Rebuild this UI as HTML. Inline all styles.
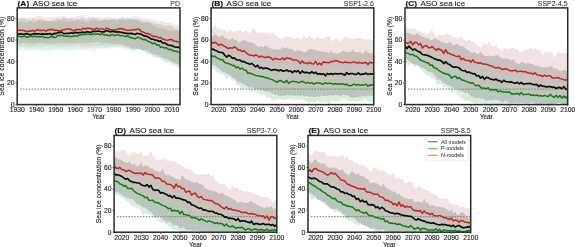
<!DOCTYPE html>
<html><head><meta charset="utf-8"><style>
html,body{margin:0;padding:0;background:#fff;width:575px;height:247px;overflow:hidden}
svg{display:block;will-change:transform;filter:blur(0.2px)}
</style></head><body>
<svg width="575" height="247" viewBox="0 0 575 247">
<style>text{font-family:"Liberation Sans",sans-serif;fill:#1a1a1a}.tk{stroke:#1a1a1a;stroke-width:0.12}</style>
<clipPath id="cA"><rect x="17.2" y="7.9" width="162.8" height="96.7"/></clipPath>
<g clip-path="url(#cA)">
<polygon points="17.2,106.6 17.2,18.13 19.14,17.85 21.08,17.04 23.01,17.99 24.95,17.33 26.89,18.66 28.83,16.31 30.77,17.82 32.7,17.56 34.64,16.65 36.58,16.73 38.52,15.33 40.46,15.39 42.4,17.1 44.33,17.24 46.27,17.32 48.21,16.97 50.15,16.85 52.09,17.17 54.02,17.61 55.96,17.09 57.9,16.24 59.84,16.76 61.78,15.71 63.71,15.81 65.65,16.96 67.59,17.59 69.53,18.06 71.47,16.44 73.4,16.9 75.34,17.19 77.28,16.13 79.22,16.13 81.16,14.9 83.1,15.42 85.03,16.64 86.97,17.18 88.91,15.94 90.85,17.04 92.79,17.1 94.72,16.84 96.66,17.37 98.6,16.92 100.54,17.66 102.48,17.65 104.41,17.53 106.35,16.61 108.29,16.76 110.23,17.81 112.17,17.73 114.1,17.37 116.04,18.22 117.98,18.68 119.92,17.68 121.86,16.74 123.8,17.18 125.73,18.39 127.67,17.09 129.61,17.18 131.55,17.32 133.49,16.61 135.42,16.34 137.36,16.25 139.3,16.57 141.24,17.92 143.18,19.02 145.11,18.29 147.05,18.18 148.99,19.22 150.93,18.87 152.87,19.83 154.8,20.04 156.74,20.74 158.68,21.29 160.62,21.12 162.56,21.62 164.5,21.68 166.43,22.58 168.37,23.07 170.31,22.1 172.25,24.12 174.19,24.57 176.12,24.71 178.06,24.37 180,25.67 180,106.6" fill="#f2e6e6"/>
<polygon points="17.2,106.6 17.2,19.46 19.14,18.93 21.08,18.77 23.01,18.1 24.95,18.93 26.89,19.19 28.83,20.04 30.77,20.17 32.7,17.94 34.64,19.61 36.58,19.9 38.52,19.15 40.46,19.08 42.4,19.4 44.33,19.69 46.27,20.81 48.21,20.41 50.15,20.96 52.09,20.63 54.02,20.11 55.96,19.25 57.9,17.9 59.84,19.47 61.78,18.93 63.71,17.29 65.65,18.49 67.59,18.6 69.53,18.8 71.47,18.26 73.4,19.13 75.34,18.95 77.28,18.53 79.22,19.21 81.16,18.33 83.1,18.09 85.03,19.16 86.97,19.42 88.91,18.46 90.85,18.58 92.79,16.85 94.72,18.68 96.66,18.56 98.6,19.13 100.54,20.35 102.48,19.86 104.41,18.51 106.35,19.03 108.29,19.48 110.23,19.52 112.17,19.28 114.1,18.73 116.04,19.38 117.98,19.24 119.92,17.99 121.86,19.27 123.8,18.11 125.73,19.88 127.67,19.73 129.61,19.48 131.55,19.42 133.49,19.92 135.42,19.04 137.36,19.27 139.3,19.65 141.24,20.95 143.18,20.8 145.11,21.88 147.05,20.94 148.99,21.71 150.93,22.2 152.87,23.57 154.8,23.44 156.74,24.08 158.68,24.37 160.62,24.32 162.56,25.01 164.5,25.6 166.43,25.92 168.37,25.16 170.31,26.01 172.25,26.28 174.19,27.49 176.12,29 178.06,29.52 180,29.88 180,106.6" fill="#dacdcc"/>
<polygon points="17.2,106.6 17.2,22.31 19.14,22.25 21.08,21.81 23.01,21.35 24.95,22.51 26.89,22.88 28.83,22.19 30.77,20.84 32.7,22.63 34.64,22.43 36.58,22.32 38.52,20.59 40.46,21.3 42.4,20.97 44.33,20.94 46.27,21.21 48.21,21.56 50.15,21.45 52.09,20.98 54.02,21.6 55.96,21.74 57.9,20.84 59.84,20.83 61.78,20.52 63.71,20.21 65.65,21.71 67.59,21.59 69.53,22.48 71.47,20.66 73.4,21.05 75.34,20.91 77.28,19.8 79.22,20.62 81.16,21.1 83.1,20.42 85.03,21.66 86.97,22.2 88.91,21.8 90.85,20.73 92.79,20.56 94.72,20.26 96.66,20.95 98.6,20.84 100.54,21.11 102.48,19.96 104.41,20.24 106.35,19.82 108.29,20.4 110.23,20.38 112.17,19.83 114.1,20.68 116.04,20.61 117.98,20.59 119.92,20.15 121.86,19.56 123.8,19.8 125.73,19.96 127.67,18.53 129.61,19.53 131.55,19.2 133.49,19.48 135.42,19.76 137.36,20.73 139.3,21.21 141.24,22.1 143.18,22.38 145.11,23.29 147.05,23.36 148.99,22.48 150.93,24.19 152.87,25.14 154.8,25.84 156.74,27.46 158.68,28.19 160.62,28.25 162.56,28.95 164.5,28.18 166.43,29.54 168.37,30.16 170.31,30.19 172.25,30.77 174.19,30.52 176.12,30.43 178.06,31.22 180,32.33 180,106.6" fill="#c3beb8"/>
<polygon points="17.2,106.6 17.2,38.82 19.14,39.09 21.08,38.95 23.01,38.95 24.95,39.6 26.89,40.07 28.83,40.43 30.77,39.91 32.7,39.77 34.64,39.59 36.58,39.56 38.52,39.48 40.46,39.66 42.4,40.06 44.33,39.65 46.27,40.08 48.21,40.13 50.15,40.24 52.09,40.57 54.02,40.07 55.96,39.55 57.9,38.36 59.84,38.82 61.78,39.31 63.71,39.12 65.65,39.42 67.59,38.97 69.53,39.39 71.47,39.32 73.4,39.17 75.34,39.25 77.28,38.85 79.22,37.81 81.16,37.94 83.1,37.13 85.03,37.8 86.97,36.84 88.91,36.64 90.85,36.96 92.79,36.93 94.72,36.63 96.66,36.28 98.6,36.32 100.54,36.55 102.48,37.04 104.41,37.81 106.35,37.4 108.29,37.86 110.23,38.17 112.17,37.75 114.1,37.51 116.04,37.51 117.98,38.65 119.92,37.83 121.86,38.3 123.8,38.83 125.73,39.06 127.67,39.48 129.61,39.13 131.55,39.97 133.49,40.69 135.42,41.35 137.36,39.97 139.3,40.13 141.24,41.18 143.18,42 145.11,43.15 147.05,43.43 148.99,44 150.93,44.78 152.87,45.79 154.8,46.7 156.74,47.72 158.68,48.35 160.62,49.19 162.56,50.09 164.5,50.46 166.43,51.4 168.37,53.12 170.31,52.52 172.25,53.44 174.19,53.66 176.12,54.39 178.06,54.85 180,56.05 180,106.6" fill="#bbc5bd"/>
<polygon points="17.2,106.6 17.2,43.48 19.14,43.42 21.08,43.09 23.01,42.83 24.95,43.22 26.89,43.4 28.83,43.26 30.77,43.36 32.7,43.75 34.64,43.42 36.58,43.15 38.52,42.91 40.46,42.79 42.4,42.94 44.33,43.33 46.27,43.28 48.21,44.02 50.15,43.39 52.09,43.46 54.02,43.34 55.96,43.78 57.9,42.83 59.84,43.2 61.78,43.09 63.71,43.16 65.65,43.1 67.59,43.28 69.53,43.01 71.47,43.49 73.4,43.22 75.34,42.97 77.28,43.43 79.22,42.33 81.16,43.28 83.1,42.64 85.03,42.88 86.97,43.06 88.91,43.53 90.85,42.51 92.79,42.14 94.72,42.28 96.66,42.24 98.6,41.95 100.54,42.94 102.48,43.66 104.41,43.28 106.35,43.1 108.29,43.33 110.23,43.46 112.17,43.64 114.1,43.84 116.04,43.65 117.98,44.49 119.92,43.64 121.86,44.44 123.8,45.17 125.73,46.06 127.67,45.69 129.61,46.81 131.55,49.16 133.49,48.01 135.42,48.56 137.36,48.48 139.3,48.84 141.24,49.19 143.18,50.18 145.11,50.16 147.05,50.61 148.99,51.6 150.93,52.67 152.87,53.87 154.8,54.3 156.74,55.14 158.68,55.48 160.62,56.79 162.56,57.86 164.5,58.34 166.43,58.73 168.37,59.56 170.31,60.64 172.25,62.75 174.19,63.42 176.12,63.08 178.06,63.85 180,65.4 180,106.6" fill="#cfdfd2"/>
<polygon points="17.2,106.6 17.2,46.3 19.14,46.47 21.08,46.49 23.01,46.26 24.95,46.04 26.89,46.6 28.83,47.43 30.77,46.81 32.7,46.89 34.64,46.05 36.58,46.54 38.52,47.02 40.46,46.16 42.4,46.39 44.33,45.8 46.27,45.63 48.21,45.96 50.15,45.86 52.09,46 54.02,45.84 55.96,45.92 57.9,46.98 59.84,46.22 61.78,46.45 63.71,46.31 65.65,46.33 67.59,46.04 69.53,46.35 71.47,45.87 73.4,45.83 75.34,45.26 77.28,45.79 79.22,45.36 81.16,46.06 83.1,46.03 85.03,46.39 86.97,46.52 88.91,46.21 90.85,46.35 92.79,45.84 94.72,45.76 96.66,45.85 98.6,46.07 100.54,46.11 102.48,45.98 104.41,46.31 106.35,47.33 108.29,46.23 110.23,45.75 112.17,45.85 114.1,46.26 116.04,45.61 117.98,45.65 119.92,45.99 121.86,45.69 123.8,46.15 125.73,47.43 127.67,47.62 129.61,48 131.55,48.7 133.49,50.47 135.42,51.02 137.36,50.43 139.3,50.67 141.24,50.71 143.18,50.88 145.11,51.49 147.05,52.26 148.99,52.72 150.93,53.71 152.87,55.46 154.8,55.36 156.74,56.16 158.68,57.38 160.62,57.68 162.56,58.6 164.5,59.41 166.43,60.04 168.37,61.19 170.31,61.57 172.25,61.99 174.19,63.07 176.12,64.66 178.06,65.5 180,65.91 180,106.6" fill="#e0eee2"/>
<polygon points="17.2,106.6 17.2,48.91 19.14,48.99 21.08,48.93 23.01,48.81 24.95,48.51 26.89,49.09 28.83,48.93 30.77,49.36 32.7,48.85 34.64,48.95 36.58,49.58 38.52,49.25 40.46,49.55 42.4,49.38 44.33,49.15 46.27,49.34 48.21,49.76 50.15,49.35 52.09,48.77 54.02,49.02 55.96,49.27 57.9,48.66 59.84,48.53 61.78,48.33 63.71,48.37 65.65,49.32 67.59,48.81 69.53,48.7 71.47,48.24 73.4,48.71 75.34,48.87 77.28,48.93 79.22,48.26 81.16,48.57 83.1,48.91 85.03,48.59 86.97,48.17 88.91,47.9 90.85,48.08 92.79,48.45 94.72,48.32 96.66,48.37 98.6,48.34 100.54,48.09 102.48,47.89 104.41,48.45 106.35,47.83 108.29,47.88 110.23,48.14 112.17,47.8 114.1,47.28 116.04,47.94 117.98,47.44 119.92,47.14 121.86,47.49 123.8,48.2 125.73,48.5 127.67,48.87 129.61,49.15 131.55,50.21 133.49,50.08 135.42,49.89 137.36,49.21 139.3,49.42 141.24,50.66 143.18,51.83 145.11,52.78 147.05,53.64 148.99,54.22 150.93,55.29 152.87,56.38 154.8,57.17 156.74,57.93 158.68,58.56 160.62,59.34 162.56,61.56 164.5,61.92 166.43,62.13 168.37,62.55 170.31,63.08 172.25,64.57 174.19,65.17 176.12,65.79 178.06,67.62 180,67.61 180,106.6" fill="#f0f7f1"/>
<polygon points="17.2,106.6 17.2,51.1 19.14,50.67 21.08,50.24 23.01,52.12 24.95,51.01 26.89,51.37 28.83,51.32 30.77,52.09 32.7,51.62 34.64,50.33 36.58,50.74 38.52,50.54 40.46,50.79 42.4,51.14 44.33,51.39 46.27,51.62 48.21,51.75 50.15,51.8 52.09,51.59 54.02,51.1 55.96,50.84 57.9,50.12 59.84,50.03 61.78,49.55 63.71,50.87 65.65,51.09 67.59,51.55 69.53,51.28 71.47,50.85 73.4,51.58 75.34,51.56 77.28,50.07 79.22,50.09 81.16,50.52 83.1,49.88 85.03,50.61 86.97,50.1 88.91,50.04 90.85,50.36 92.79,50.61 94.72,51.16 96.66,50.31 98.6,49.66 100.54,49.48 102.48,49.37 104.41,49.59 106.35,48.67 108.29,48.47 110.23,48.17 112.17,48.08 114.1,47.7 116.04,47.52 117.98,47.77 119.92,48.73 121.86,49.77 123.8,48.84 125.73,49.95 127.67,50.09 129.61,50.66 131.55,51.06 133.49,50.66 135.42,49.93 137.36,49.3 139.3,49.39 141.24,50.68 143.18,51.37 145.11,52.79 147.05,54.99 148.99,54.94 150.93,56.28 152.87,57.11 154.8,57.16 156.74,57.8 158.68,58.48 160.62,59.17 162.56,60.45 164.5,61.84 166.43,62.57 168.37,63.12 170.31,63.63 172.25,64.93 174.19,65.54 176.12,66.88 178.06,67.72 180,68.44 180,106.6" fill="#ffffff"/>
<line x1="20.2" y1="89.08" x2="180" y2="89.08" stroke="#7a7a7a" stroke-width="1.0" stroke-dasharray="1.55,1.32"/>
<polyline points="17.2,29.84 19.14,30.15 21.08,30.34 23.01,30.27 24.95,30.97 26.89,31.72 28.83,31.07 30.77,31.26 32.7,30.21 34.64,31.56 36.58,29.79 38.52,29.94 40.46,30.57 42.4,30.29 44.33,30.3 46.27,31.1 48.21,29.52 50.15,29.71 52.09,29.22 54.02,30.35 55.96,30.35 57.9,30.42 59.84,30.98 61.78,30.26 63.71,29.85 65.65,29.24 67.59,29.11 69.53,29.05 71.47,29.79 73.4,30.84 75.34,29.85 77.28,29.5 79.22,29.51 81.16,29.97 83.1,28.18 85.03,28.94 86.97,28.1 88.91,28.35 90.85,28.45 92.79,29.21 94.72,29.25 96.66,28.29 98.6,28.77 100.54,29.11 102.48,28.61 104.41,29.95 106.35,27.99 108.29,29.07 110.23,29.44 112.17,30.11 114.1,29.67 116.04,29.74 117.98,29.36 119.92,28.55 121.86,28.73 123.8,29.33 125.73,29.92 127.67,30.19 129.61,30.17 131.55,29.96 133.49,29.48 135.42,29.68 137.36,29.23 139.3,29.16 141.24,31.56 143.18,31.92 145.11,33.21 147.05,33.42 148.99,33.77 150.93,35.07 152.87,36.46 154.8,36.16 156.74,36.62 158.68,37.82 160.62,37.62 162.56,39.01 164.5,39.44 166.43,40.44 168.37,40.08 170.31,39.51 172.25,39.85 174.19,41.33 176.12,41.23 178.06,41.88 180,42.33" fill="none" stroke="#c4261c" stroke-width="1.5" stroke-linejoin="round"/>
<polyline points="17.2,34.62 19.14,33.99 21.08,33.85 23.01,34.51 24.95,33.97 26.89,33.87 28.83,34.42 30.77,34.85 32.7,34 34.64,33.7 36.58,33.93 38.52,33.74 40.46,34.29 42.4,33.85 44.33,34.16 46.27,34.08 48.21,33.96 50.15,33.59 52.09,34.67 54.02,33.44 55.96,33.67 57.9,32.36 59.84,32.67 61.78,32.05 63.71,33.6 65.65,33.49 67.59,33.3 69.53,33.35 71.47,32.74 73.4,33.36 75.34,32.33 77.28,32.9 79.22,32.54 81.16,32.67 83.1,32 85.03,32.76 86.97,31.6 88.91,32.04 90.85,32.4 92.79,31.24 94.72,31.28 96.66,31.43 98.6,31.03 100.54,31.54 102.48,31.86 104.41,31.79 106.35,30.85 108.29,31.02 110.23,31.99 112.17,31.28 114.1,31.54 116.04,32.16 117.98,31.74 119.92,32.15 121.86,32.43 123.8,32.88 125.73,33.39 127.67,33.43 129.61,33.59 131.55,33.38 133.49,34.07 135.42,34.3 137.36,33.28 139.3,33.99 141.24,34.11 143.18,35.35 145.11,36.16 147.05,36.33 148.99,37.56 150.93,38.88 152.87,39.27 154.8,39.89 156.74,40.17 158.68,41.31 160.62,40.89 162.56,42.99 164.5,42.84 166.43,43.9 168.37,45.23 170.31,45.42 172.25,45.71 174.19,46.76 176.12,47.27 178.06,47.1 180,47.85" fill="none" stroke="#0d0d0d" stroke-width="1.7" stroke-linejoin="round"/>
<polyline points="17.2,36.1 19.14,36.25 21.08,36.68 23.01,36.47 24.95,36.02 26.89,37.39 28.83,36.84 30.77,36.15 32.7,36.77 34.64,36.27 36.58,36.73 38.52,36.48 40.46,36.88 42.4,36.32 44.33,37.47 46.27,37.21 48.21,37.87 50.15,36.94 52.09,36.42 54.02,37.48 55.96,37.2 57.9,35.29 59.84,35.69 61.78,35.07 63.71,36.15 65.65,36.21 67.59,36 69.53,36.49 71.47,36.56 73.4,36.16 75.34,35.96 77.28,36 79.22,35.09 81.16,35 83.1,34.26 85.03,34.57 86.97,34.36 88.91,33.9 90.85,34.62 92.79,34.04 94.72,34.12 96.66,34.25 98.6,33.8 100.54,34.7 102.48,33.75 104.41,35.15 106.35,34.62 108.29,35.58 110.23,35.54 112.17,34.42 114.1,35.44 116.04,35.3 117.98,34.33 119.92,35.64 121.86,35.38 123.8,36.13 125.73,36.56 127.67,35.78 129.61,37.33 131.55,37.65 133.49,38.32 135.42,38.79 137.36,37.22 139.3,37.87 141.24,38.53 143.18,39.72 145.11,39.43 147.05,40.54 148.99,41.79 150.93,42.37 152.87,43.88 154.8,42.88 156.74,45.28 158.68,44.7 160.62,47.38 162.56,47.11 164.5,48.09 166.43,47.69 168.37,49.48 170.31,49.2 172.25,50.22 174.19,51.19 176.12,51.28 178.06,52.04 180,52.59" fill="none" stroke="#0c8212" stroke-width="1.5" stroke-linejoin="round"/>
</g>
<rect x="17.2" y="7.9" width="162.8" height="96.7" fill="none" stroke="#2b2b2b" stroke-width="1.5"/>
<line x1="15.4" y1="104.6" x2="17.2" y2="104.6" stroke="#333" stroke-width="0.6"/>
<text x="14.6" y="106.9" font-size="6.8" text-anchor="end" class="tk">0</text>
<line x1="15.4" y1="83.11" x2="17.2" y2="83.11" stroke="#333" stroke-width="0.6"/>
<text x="14.6" y="85.41" font-size="6.8" text-anchor="end" class="tk">20</text>
<line x1="15.4" y1="61.62" x2="17.2" y2="61.62" stroke="#333" stroke-width="0.6"/>
<text x="14.6" y="63.92" font-size="6.8" text-anchor="end" class="tk">40</text>
<line x1="15.4" y1="40.13" x2="17.2" y2="40.13" stroke="#333" stroke-width="0.6"/>
<text x="14.6" y="42.43" font-size="6.8" text-anchor="end" class="tk">60</text>
<line x1="15.4" y1="18.64" x2="17.2" y2="18.64" stroke="#333" stroke-width="0.6"/>
<text x="14.6" y="20.94" font-size="6.8" text-anchor="end" class="tk">80</text>
<line x1="17.2" y1="104.6" x2="17.2" y2="106.4" stroke="#333" stroke-width="0.6"/>
<text x="17.2" y="112.1" font-size="6.8" text-anchor="middle" class="tk">1930</text>
<line x1="36.51" y1="104.6" x2="36.51" y2="106.4" stroke="#333" stroke-width="0.6"/>
<text x="36.51" y="112.1" font-size="6.8" text-anchor="middle" class="tk">1940</text>
<line x1="55.82" y1="104.6" x2="55.82" y2="106.4" stroke="#333" stroke-width="0.6"/>
<text x="55.82" y="112.1" font-size="6.8" text-anchor="middle" class="tk">1950</text>
<line x1="75.14" y1="104.6" x2="75.14" y2="106.4" stroke="#333" stroke-width="0.6"/>
<text x="75.14" y="112.1" font-size="6.8" text-anchor="middle" class="tk">1960</text>
<line x1="94.45" y1="104.6" x2="94.45" y2="106.4" stroke="#333" stroke-width="0.6"/>
<text x="94.45" y="112.1" font-size="6.8" text-anchor="middle" class="tk">1970</text>
<line x1="113.76" y1="104.6" x2="113.76" y2="106.4" stroke="#333" stroke-width="0.6"/>
<text x="113.76" y="112.1" font-size="6.8" text-anchor="middle" class="tk">1980</text>
<line x1="133.07" y1="104.6" x2="133.07" y2="106.4" stroke="#333" stroke-width="0.6"/>
<text x="133.07" y="112.1" font-size="6.8" text-anchor="middle" class="tk">1990</text>
<line x1="152.38" y1="104.6" x2="152.38" y2="106.4" stroke="#333" stroke-width="0.6"/>
<text x="152.38" y="112.1" font-size="6.8" text-anchor="middle" class="tk">2000</text>
<line x1="171.7" y1="104.6" x2="171.7" y2="106.4" stroke="#333" stroke-width="0.6"/>
<text x="171.7" y="112.1" font-size="6.8" text-anchor="middle" class="tk">2010</text>
<text x="98.6" y="119" font-size="6.3" text-anchor="middle" class="tk">Year</text>
<text transform="translate(4,56.25) rotate(-90)" font-size="6.9" text-anchor="middle" class="tk">Sea ice concentration (%)</text>
<text x="17.6" y="5.7" font-size="7.8" font-weight="bold" stroke="#1a1a1a" stroke-width="0.2" textLength="11.6" lengthAdjust="spacingAndGlyphs">(A)</text>
<text x="32.7" y="5.7" font-size="7.9" stroke="#1a1a1a" stroke-width="0.12" textLength="44.6" lengthAdjust="spacingAndGlyphs">ASO sea ice</text>
<text x="180" y="5.7" font-size="7" text-anchor="end" fill="#5a5a5a">PD</text>
<clipPath id="cB"><rect x="211.1" y="7.9" width="162.7" height="96.7"/></clipPath>
<g clip-path="url(#cB)">
<polygon points="211.1,106.6 211.1,28.65 213.04,28.5 214.97,25.23 216.91,27.22 218.85,28.69 220.78,28.62 222.72,29.36 224.66,29.78 226.6,31.89 228.53,31.51 230.47,29.63 232.41,31.7 234.34,31.04 236.28,31.24 238.22,31.51 240.15,29.54 242.09,32.03 244.03,31.78 245.96,30.52 247.9,32.34 249.84,33 251.78,30.91 253.71,27.91 255.65,32.1 257.59,32.56 259.52,32.92 261.46,32.2 263.4,32.97 265.33,33.63 267.27,32.1 269.21,33.4 271.14,34.34 273.08,32.37 275.02,34.97 276.95,36.09 278.89,38.38 280.83,38.76 282.77,38.14 284.7,36.58 286.64,35.74 288.58,36.93 290.51,36.98 292.45,37.35 294.39,38.97 296.32,37.82 298.26,36.94 300.2,40.33 302.13,37.6 304.07,35.41 306.01,38.42 307.95,37.57 309.88,35.38 311.82,37.66 313.76,39.36 315.69,39.02 317.63,37.09 319.57,38.37 321.5,39.03 323.44,38.4 325.38,37.62 327.31,35.94 329.25,36.58 331.19,39.67 333.12,41.49 335.06,38.81 337,37.9 338.94,40.49 340.87,41.04 342.81,38.81 344.75,37.56 346.68,36.17 348.62,37.61 350.56,38.46 352.49,38.27 354.43,38.9 356.37,38.15 358.3,38.37 360.24,37.56 362.18,39.03 364.12,39.55 366.05,40.01 367.99,38.71 369.93,39.16 371.86,40.18 373.8,40.16 373.8,106.6" fill="#f0e3e2"/>
<polygon points="211.1,106.6 211.1,35.91 213.04,36.36 214.97,34.25 216.91,35.16 218.85,36.94 220.78,36.48 222.72,35.12 224.66,37.92 226.6,38.61 228.53,39.71 230.47,39.66 232.41,37.83 234.34,40.05 236.28,39.51 238.22,42.34 240.15,41.42 242.09,40.75 244.03,40.29 245.96,40.29 247.9,42.48 249.84,42 251.78,42.76 253.71,43.31 255.65,44.71 257.59,46.26 259.52,46.64 261.46,46.24 263.4,47.36 265.33,45.77 267.27,46.46 269.21,47.63 271.14,48.46 273.08,49.86 275.02,48.92 276.95,49.46 278.89,49.94 280.83,49.12 282.77,46.87 284.7,48.4 286.64,47.56 288.58,49.06 290.51,48.93 292.45,49.33 294.39,51.54 296.32,50.75 298.26,50.15 300.2,50.87 302.13,51.22 304.07,52.58 306.01,51.89 307.95,50.23 309.88,48.91 311.82,48.93 313.76,49.88 315.69,49.39 317.63,51.26 319.57,51.08 321.5,51.43 323.44,51.8 325.38,51.85 327.31,52.69 329.25,52.63 331.19,50.51 333.12,53.62 335.06,52.64 337,53.91 338.94,53.07 340.87,52.44 342.81,50.17 344.75,51.43 346.68,52.35 348.62,52.04 350.56,52.29 352.49,49.19 354.43,51.86 356.37,52.56 358.3,52.05 360.24,51.95 362.18,53.75 364.12,52.82 366.05,49.7 367.99,52.91 369.93,52.73 371.86,53.13 373.8,52.31 373.8,106.6" fill="#c9bfbf"/>
<polygon points="211.1,106.6 211.1,43.83 213.04,44.32 214.97,46.63 216.91,49.54 218.85,49.48 220.78,49.45 222.72,50.59 224.66,52.03 226.6,52.73 228.53,52.43 230.47,53.28 232.41,57.31 234.34,53.18 236.28,54 238.22,56.31 240.15,55.65 242.09,55.7 244.03,56.79 245.96,56.71 247.9,57.79 249.84,59.61 251.78,58.31 253.71,58.31 255.65,60.42 257.59,60.58 259.52,62.38 261.46,62.49 263.4,62.84 265.33,63.46 267.27,63.32 269.21,62.85 271.14,62.89 273.08,63.78 275.02,64.35 276.95,63.12 278.89,66.06 280.83,65.08 282.77,63.73 284.7,66.99 286.64,63.15 288.58,63.68 290.51,64.54 292.45,65.58 294.39,68.41 296.32,67.97 298.26,68.27 300.2,69.17 302.13,69.85 304.07,71.33 306.01,70 307.95,68.39 309.88,68.67 311.82,69.21 313.76,69.47 315.69,68.98 317.63,72.1 319.57,68.79 321.5,69.85 323.44,68.85 325.38,69.67 327.31,70.35 329.25,71 331.19,69.3 333.12,70.11 335.06,68.8 337,68.87 338.94,69 340.87,68.23 342.81,68.16 344.75,70.56 346.68,70.69 348.62,68.95 350.56,69.69 352.49,68.55 354.43,67.45 356.37,67.07 358.3,68.32 360.24,69.54 362.18,70.11 364.12,68.85 366.05,69.55 367.99,70.56 369.93,68.24 371.86,69.33 373.8,70.79 373.8,106.6" fill="#c8c5be"/>
<polygon points="211.1,106.6 211.1,49.43 213.04,49.06 214.97,50.18 216.91,50.95 218.85,52.15 220.78,52.5 222.72,52.62 224.66,54.96 226.6,57.1 228.53,55.32 230.47,56.25 232.41,58.43 234.34,57.81 236.28,59.56 238.22,59.86 240.15,60.09 242.09,61.78 244.03,61.43 245.96,62.95 247.9,63.26 249.84,64.29 251.78,63.47 253.71,65.2 255.65,66.92 257.59,65.2 259.52,68.1 261.46,67.32 263.4,68.69 265.33,67.96 267.27,68.29 269.21,69.13 271.14,70.4 273.08,69.81 275.02,69.54 276.95,70.08 278.89,70.84 280.83,69.79 282.77,71.21 284.7,70.91 286.64,70 288.58,71.38 290.51,70.8 292.45,72.51 294.39,70.84 296.32,71.79 298.26,70.79 300.2,73.41 302.13,70.99 304.07,72.63 306.01,72.44 307.95,72.65 309.88,73.3 311.82,71.58 313.76,73.45 315.69,72.19 317.63,74.28 319.57,73.6 321.5,74.39 323.44,73.7 325.38,75.77 327.31,73.48 329.25,74.34 331.19,73.67 333.12,74.36 335.06,73.5 337,73.87 338.94,73.83 340.87,73.53 342.81,74.18 344.75,75.12 346.68,72.64 348.62,74.3 350.56,73.6 352.49,73.48 354.43,74.29 356.37,74.36 358.3,72.86 360.24,74.57 362.18,73.96 364.12,74.05 366.05,73.12 367.99,74.46 369.93,73.72 371.86,74.23 373.8,73.35 373.8,106.6" fill="#c2c3ba"/>
<polygon points="211.1,106.6 211.1,57.7 213.04,60.09 214.97,61 216.91,62.22 218.85,62.97 220.78,62.83 222.72,63.53 224.66,66.03 226.6,66.86 228.53,67.24 230.47,67.27 232.41,69.29 234.34,69.77 236.28,70.15 238.22,72.9 240.15,71.08 242.09,71.46 244.03,72.6 245.96,73.04 247.9,74.24 249.84,75.45 251.78,76.18 253.71,77.97 255.65,78.48 257.59,79.07 259.52,81.03 261.46,81.47 263.4,81.72 265.33,82.11 267.27,82.17 269.21,82.61 271.14,82.77 273.08,84.07 275.02,84.95 276.95,84.97 278.89,84.9 280.83,85.25 282.77,85.81 284.7,86.62 286.64,85.92 288.58,86.17 290.51,86.8 292.45,86.96 294.39,87.15 296.32,87.3 298.26,87.18 300.2,87.75 302.13,87.68 304.07,89.86 306.01,88.47 307.95,88.24 309.88,87.83 311.82,87.32 313.76,88.03 315.69,86.8 317.63,86.74 319.57,86.78 321.5,87.55 323.44,87.82 325.38,88.63 327.31,87.78 329.25,86.94 331.19,86.62 333.12,87.66 335.06,87.77 337,87 338.94,87.67 340.87,88.1 342.81,87.23 344.75,88.99 346.68,88.35 348.62,87.46 350.56,87.66 352.49,87.89 354.43,89.61 356.37,89.16 358.3,89.26 360.24,88.99 362.18,89.18 364.12,88.28 366.05,87.66 367.99,88.54 369.93,88.34 371.86,88.97 373.8,88.6 373.8,106.6" fill="#b8c6bd"/>
<polygon points="211.1,106.6 211.1,62.15 213.04,65.55 214.97,65.67 216.91,67.32 218.85,68.43 220.78,70.13 222.72,72.09 224.66,72.04 226.6,73.81 228.53,74.23 230.47,75.89 232.41,77.43 234.34,78.45 236.28,80.24 238.22,82.49 240.15,82.5 242.09,83.44 244.03,84.08 245.96,85.48 247.9,86.77 249.84,88 251.78,86.83 253.71,88.16 255.65,89.31 257.59,88.21 259.52,90.48 261.46,90.49 263.4,90.39 265.33,91.91 267.27,91.49 269.21,91.5 271.14,93.2 273.08,93.96 275.02,95 276.95,94.74 278.89,96.14 280.83,96.09 282.77,95.55 284.7,96.05 286.64,94.88 288.58,95.33 290.51,95.26 292.45,95.16 294.39,95.71 296.32,95.6 298.26,95.49 300.2,96.21 302.13,95.12 304.07,96.46 306.01,96.21 307.95,95.64 309.88,97.3 311.82,95.8 313.76,97.59 315.69,96.82 317.63,96.18 319.57,96.73 321.5,95.29 323.44,96.03 325.38,96.09 327.31,96.01 329.25,95.12 331.19,95.54 333.12,95.49 335.06,94.93 337,95.06 338.94,95.4 340.87,96.16 342.81,94.46 344.75,94.84 346.68,95.53 348.62,95.18 350.56,97.44 352.49,97.23 354.43,97.67 356.37,96.93 358.3,96.51 360.24,97.22 362.18,95.73 364.12,95.98 366.05,96.63 367.99,95.21 369.93,96.13 371.86,95.63 373.8,95.52 373.8,106.6" fill="#d9ecdd"/>
<polygon points="211.1,106.6 211.1,67.68 213.04,68.46 214.97,69.13 216.91,73.03 218.85,72.16 220.78,73.11 222.72,74.75 224.66,76.1 226.6,78.74 228.53,77.52 230.47,77.77 232.41,81.47 234.34,80.08 236.28,85.05 238.22,85.04 240.15,86.43 242.09,89.4 244.03,87.54 245.96,87.97 247.9,89.09 249.84,90.88 251.78,91.37 253.71,91.74 255.65,92.21 257.59,93.07 259.52,93.78 261.46,95.9 263.4,93.79 265.33,96.01 267.27,97.75 269.21,97.07 271.14,98.43 273.08,100.53 275.02,100.28 276.95,99.19 278.89,99.5 280.83,99.64 282.77,100.04 284.7,100.21 286.64,99.28 288.58,99.36 290.51,98.66 292.45,99.77 294.39,99.66 296.32,99.73 298.26,100.28 300.2,99.95 302.13,99.38 304.07,100.23 306.01,101.08 307.95,101.97 309.88,102.38 311.82,101.74 313.76,102.5 315.69,102.15 317.63,100.84 319.57,101.81 321.5,103.32 323.44,102.12 325.38,101.69 327.31,102.39 329.25,104.48 331.19,100.75 333.12,101.23 335.06,101.86 337,101.63 338.94,100.7 340.87,99.81 342.81,99.53 344.75,99.39 346.68,100.69 348.62,99.89 350.56,101.64 352.49,100.84 354.43,100.94 356.37,102.29 358.3,100.8 360.24,101.29 362.18,100.75 364.12,99.6 366.05,100.24 367.99,101.56 369.93,102.74 371.86,101.83 373.8,101.65 373.8,106.6" fill="#ffffff"/>
<line x1="214.1" y1="89.08" x2="373.8" y2="89.08" stroke="#7a7a7a" stroke-width="1.0" stroke-dasharray="1.55,1.32"/>
<polyline points="211.1,41.45 213.04,43.35 214.97,42.16 216.91,43.45 218.85,45.35 220.78,44.26 222.72,45.01 224.66,46.34 226.6,47.48 228.53,48.53 230.47,47.82 232.41,48.27 234.34,46.97 236.28,47.93 238.22,49.95 240.15,49.9 242.09,51.47 244.03,50.7 245.96,52.51 247.9,54.29 249.84,54.93 251.78,55.13 253.71,56.03 255.65,55 257.59,55.9 259.52,57.13 261.46,55.93 263.4,57.25 265.33,57.51 267.27,56.99 269.21,56.96 271.14,58.14 273.08,60 275.02,58.28 276.95,58.98 278.89,59.38 280.83,59.45 282.77,58.13 284.7,59.82 286.64,57.75 288.58,58.6 290.51,58.45 292.45,59.9 294.39,59.93 296.32,60.12 298.26,60.83 300.2,63.64 302.13,60.96 304.07,63.02 306.01,62.9 307.95,63.79 309.88,62.41 311.82,63.66 313.76,63.89 315.69,61.33 317.63,64.79 319.57,63 321.5,65 323.44,61.74 325.38,62.47 327.31,62.47 329.25,62.71 331.19,61.35 333.12,61.65 335.06,60.53 337,60.75 338.94,61.91 340.87,62.11 342.81,62.83 344.75,62.02 346.68,62.49 348.62,62.44 350.56,62.83 352.49,62.1 354.43,62.07 356.37,62.91 358.3,62.53 360.24,62.66 362.18,63.32 364.12,62.67 366.05,62.52 367.99,64.6 369.93,62.29 371.86,62.86 373.8,63.06" fill="none" stroke="#c4261c" stroke-width="1.5" stroke-linejoin="round"/>
<polyline points="211.1,49.43 213.04,49.06 214.97,50.18 216.91,50.95 218.85,52.15 220.78,52.5 222.72,52.62 224.66,54.96 226.6,57.1 228.53,55.32 230.47,56.25 232.41,58.43 234.34,57.81 236.28,59.56 238.22,59.86 240.15,60.09 242.09,61.78 244.03,61.43 245.96,62.95 247.9,63.26 249.84,64.29 251.78,63.47 253.71,65.2 255.65,66.92 257.59,65.2 259.52,68.1 261.46,67.32 263.4,68.69 265.33,67.96 267.27,68.29 269.21,69.13 271.14,70.4 273.08,69.81 275.02,69.54 276.95,70.08 278.89,70.84 280.83,69.79 282.77,71.21 284.7,70.91 286.64,70 288.58,71.38 290.51,70.8 292.45,72.51 294.39,70.84 296.32,71.79 298.26,70.79 300.2,73.41 302.13,70.99 304.07,72.63 306.01,72.44 307.95,72.65 309.88,73.3 311.82,71.58 313.76,73.45 315.69,72.19 317.63,74.28 319.57,73.6 321.5,74.39 323.44,73.7 325.38,75.77 327.31,73.48 329.25,74.34 331.19,73.67 333.12,74.36 335.06,73.5 337,73.87 338.94,73.83 340.87,73.53 342.81,74.18 344.75,75.12 346.68,72.64 348.62,74.3 350.56,73.6 352.49,73.48 354.43,74.29 356.37,74.36 358.3,72.86 360.24,74.57 362.18,73.96 364.12,74.05 366.05,73.12 367.99,74.46 369.93,73.72 371.86,74.23 373.8,73.35" fill="none" stroke="#0d0d0d" stroke-width="1.7" stroke-linejoin="round"/>
<polyline points="211.1,55.25 213.04,56.5 214.97,56.37 216.91,57.9 218.85,58.86 220.78,59.71 222.72,59.75 224.66,62.54 226.6,62.96 228.53,63.81 230.47,64.14 232.41,65.77 234.34,65.35 236.28,68.01 238.22,66.88 240.15,69.25 242.09,67.94 244.03,70.08 245.96,70.24 247.9,73.24 249.84,72.99 251.78,73.95 253.71,74.58 255.65,75.4 257.59,75.78 259.52,76.06 261.46,76.66 263.4,76.59 265.33,77.67 267.27,77.67 269.21,78.88 271.14,79.15 273.08,80.11 275.02,81.05 276.95,82.38 278.89,80.98 280.83,80.56 282.77,81.95 284.7,82.55 286.64,80.34 288.58,83.36 290.51,81.92 292.45,81.37 294.39,81.57 296.32,81.69 298.26,82.86 300.2,82.34 302.13,81.04 304.07,82.28 306.01,83.18 307.95,82.34 309.88,83.42 311.82,82.57 313.76,84.3 315.69,83.01 317.63,83.03 319.57,82.96 321.5,83.79 323.44,84.21 325.38,82.65 327.31,83.65 329.25,83.33 331.19,83.34 333.12,84.34 335.06,83.49 337,84.27 338.94,83.69 340.87,84.28 342.81,83.67 344.75,84.69 346.68,84.23 348.62,85.58 350.56,85.82 352.49,84.82 354.43,84.11 356.37,85.36 358.3,84.41 360.24,85.21 362.18,84.87 364.12,84.89 366.05,84.21 367.99,86.13 369.93,85 371.86,85.35 373.8,84.21" fill="none" stroke="#0c8212" stroke-width="1.5" stroke-linejoin="round"/>
</g>
<rect x="211.1" y="7.9" width="162.7" height="96.7" fill="none" stroke="#2b2b2b" stroke-width="1.5"/>
<line x1="209.3" y1="104.6" x2="211.1" y2="104.6" stroke="#333" stroke-width="0.6"/>
<text x="208.5" y="106.9" font-size="6.8" text-anchor="end" class="tk">0</text>
<line x1="209.3" y1="83.11" x2="211.1" y2="83.11" stroke="#333" stroke-width="0.6"/>
<text x="208.5" y="85.41" font-size="6.8" text-anchor="end" class="tk">20</text>
<line x1="209.3" y1="61.62" x2="211.1" y2="61.62" stroke="#333" stroke-width="0.6"/>
<text x="208.5" y="63.92" font-size="6.8" text-anchor="end" class="tk">40</text>
<line x1="209.3" y1="40.13" x2="211.1" y2="40.13" stroke="#333" stroke-width="0.6"/>
<text x="208.5" y="42.43" font-size="6.8" text-anchor="end" class="tk">60</text>
<line x1="209.3" y1="18.64" x2="211.1" y2="18.64" stroke="#333" stroke-width="0.6"/>
<text x="208.5" y="20.94" font-size="6.8" text-anchor="end" class="tk">80</text>
<line x1="218.85" y1="104.6" x2="218.85" y2="106.4" stroke="#333" stroke-width="0.6"/>
<text x="218.85" y="112.1" font-size="6.8" text-anchor="middle" class="tk">2020</text>
<line x1="238.22" y1="104.6" x2="238.22" y2="106.4" stroke="#333" stroke-width="0.6"/>
<text x="238.22" y="112.1" font-size="6.8" text-anchor="middle" class="tk">2030</text>
<line x1="257.59" y1="104.6" x2="257.59" y2="106.4" stroke="#333" stroke-width="0.6"/>
<text x="257.59" y="112.1" font-size="6.8" text-anchor="middle" class="tk">2040</text>
<line x1="276.95" y1="104.6" x2="276.95" y2="106.4" stroke="#333" stroke-width="0.6"/>
<text x="276.95" y="112.1" font-size="6.8" text-anchor="middle" class="tk">2050</text>
<line x1="296.32" y1="104.6" x2="296.32" y2="106.4" stroke="#333" stroke-width="0.6"/>
<text x="296.32" y="112.1" font-size="6.8" text-anchor="middle" class="tk">2060</text>
<line x1="315.69" y1="104.6" x2="315.69" y2="106.4" stroke="#333" stroke-width="0.6"/>
<text x="315.69" y="112.1" font-size="6.8" text-anchor="middle" class="tk">2070</text>
<line x1="335.06" y1="104.6" x2="335.06" y2="106.4" stroke="#333" stroke-width="0.6"/>
<text x="335.06" y="112.1" font-size="6.8" text-anchor="middle" class="tk">2080</text>
<line x1="354.43" y1="104.6" x2="354.43" y2="106.4" stroke="#333" stroke-width="0.6"/>
<text x="354.43" y="112.1" font-size="6.8" text-anchor="middle" class="tk">2090</text>
<line x1="373.8" y1="104.6" x2="373.8" y2="106.4" stroke="#333" stroke-width="0.6"/>
<text x="373.8" y="112.1" font-size="6.8" text-anchor="middle" class="tk">2100</text>
<text x="292.45" y="119" font-size="6.3" text-anchor="middle" class="tk">Year</text>
<text transform="translate(197.9,56.25) rotate(-90)" font-size="6.9" text-anchor="middle" class="tk">Sea ice concentration (%)</text>
<text x="211.5" y="5.7" font-size="7.8" font-weight="bold" stroke="#1a1a1a" stroke-width="0.2" textLength="11.6" lengthAdjust="spacingAndGlyphs">(B)</text>
<text x="226.6" y="5.7" font-size="7.9" stroke="#1a1a1a" stroke-width="0.12" textLength="44.6" lengthAdjust="spacingAndGlyphs">ASO sea ice</text>
<text x="373.8" y="5.7" font-size="7" text-anchor="end" fill="#5a5a5a">SSP1-2.6</text>
<clipPath id="cC"><rect x="405" y="7.9" width="162.7" height="96.7"/></clipPath>
<g clip-path="url(#cC)">
<polygon points="405,106.6 405,27.12 406.94,27.83 408.87,28.35 410.81,28.9 412.75,28.41 414.68,28.62 416.62,29.94 418.56,31.64 420.5,30.88 422.43,33.09 424.37,32.33 426.31,35.36 428.24,33.89 430.18,31.79 432.12,29.85 434.05,33.66 435.99,36.82 437.93,35.91 439.86,34.35 441.8,35.12 443.74,35.02 445.68,33.76 447.61,33.82 449.55,34.64 451.49,35.32 453.42,37.21 455.36,37.44 457.3,37.65 459.23,37.7 461.17,36.16 463.11,38.73 465.04,40.66 466.98,41.29 468.92,39.42 470.85,41.77 472.79,41.18 474.73,41.9 476.67,43.9 478.6,45.97 480.54,46.94 482.48,44.82 484.41,42.17 486.35,45.73 488.29,41.39 490.22,43.05 492.16,46.08 494.1,47.03 496.03,44.47 497.97,48.13 499.91,49.01 501.85,51.47 503.78,49.22 505.72,47.52 507.66,49.32 509.59,48.97 511.53,48.21 513.47,47.75 515.4,49.37 517.34,48.76 519.28,51.75 521.21,52.15 523.15,50.84 525.09,50.67 527.02,49.28 528.96,48.79 530.9,47.46 532.84,50.04 534.77,48.06 536.71,48.66 538.65,50.03 540.58,50.67 542.52,54.54 544.46,52.97 546.39,50.64 548.33,53.08 550.27,51.34 552.2,52.9 554.14,57.74 556.08,55.85 558.02,52.38 559.95,52.55 561.89,53.9 563.83,52.03 565.76,53.05 567.7,53.44 567.7,106.6" fill="#f0e3e2"/>
<polygon points="405,106.6 405,32.96 406.94,32.55 408.87,32.97 410.81,33.76 412.75,34.64 414.68,35.18 416.62,33.41 418.56,33.76 420.5,35.79 422.43,36.76 424.37,37.21 426.31,38.58 428.24,38.18 430.18,40.13 432.12,40.32 434.05,38.81 435.99,38.51 437.93,40.17 439.86,40.6 441.8,42.41 443.74,42.25 445.68,43.2 447.61,43.59 449.55,41.59 451.49,43.46 453.42,45.76 455.36,44.5 457.3,43.79 459.23,45.76 461.17,46.17 463.11,45.78 465.04,48.81 466.98,49.59 468.92,50.49 470.85,52.28 472.79,52.47 474.73,52.08 476.67,54.01 478.6,53.76 480.54,51.44 482.48,54.87 484.41,55.61 486.35,56.4 488.29,55.55 490.22,56.24 492.16,56.44 494.1,55.43 496.03,55.38 497.97,54.95 499.91,57.09 501.85,58.56 503.78,58.87 505.72,58.13 507.66,59.28 509.59,59.24 511.53,61.03 513.47,58.77 515.4,62.28 517.34,63.38 519.28,64.13 521.21,62.17 523.15,62.26 525.09,63.91 527.02,63.15 528.96,63.26 530.9,64.06 532.84,64.37 534.77,65.54 536.71,65.75 538.65,65.84 540.58,67.19 542.52,67.2 544.46,67.26 546.39,67.25 548.33,67.37 550.27,66.1 552.2,66.65 554.14,69.13 556.08,68.33 558.02,69.77 559.95,71.07 561.89,70.93 563.83,69.82 565.76,70.48 567.7,70.57 567.7,106.6" fill="#c9bfbf"/>
<polygon points="405,106.6 405,44.78 406.94,44.1 408.87,47.25 410.81,45.56 412.75,46.8 414.68,45.7 416.62,45.76 418.56,46.74 420.5,49.19 422.43,49.02 424.37,50.74 426.31,51.31 428.24,52.22 430.18,54.8 432.12,53.82 434.05,54.56 435.99,56.58 437.93,57.72 439.86,56.68 441.8,56.62 443.74,58.14 445.68,56.57 447.61,57.88 449.55,59.74 451.49,63.57 453.42,63.94 455.36,61.95 457.3,62.09 459.23,63.72 461.17,64.74 463.11,67.97 465.04,67.38 466.98,66.99 468.92,68.28 470.85,71.3 472.79,68.39 474.73,68.09 476.67,68.01 478.6,69.83 480.54,71.59 482.48,70.89 484.41,72.07 486.35,72.77 488.29,72.09 490.22,72.94 492.16,75.9 494.1,73.99 496.03,74.16 497.97,73.86 499.91,73.12 501.85,74.87 503.78,73.58 505.72,74.81 507.66,76.97 509.59,77.6 511.53,77.92 513.47,78.39 515.4,77.6 517.34,77.43 519.28,78.93 521.21,79.35 523.15,78.32 525.09,77.65 527.02,76.69 528.96,77.35 530.9,77.65 532.84,79.44 534.77,79.09 536.71,78.84 538.65,80.76 540.58,82.17 542.52,82.39 544.46,82.69 546.39,81.11 548.33,80.19 550.27,80.14 552.2,82.79 554.14,84.93 556.08,84.49 558.02,83.09 559.95,82.68 561.89,85.33 563.83,84.45 565.76,86.51 567.7,84.62 567.7,106.6" fill="#c8c5be"/>
<polygon points="405,106.6 405,45.78 406.94,48.58 408.87,46.2 410.81,48.15 412.75,50.01 414.68,49 416.62,50.37 418.56,51.61 420.5,52.36 422.43,54.52 424.37,54.82 426.31,55.08 428.24,55.66 430.18,56.57 432.12,57.5 434.05,58.59 435.99,59.27 437.93,60.13 439.86,60.13 441.8,61.18 443.74,63.56 445.68,61.9 447.61,63.68 449.55,64.52 451.49,66.03 453.42,67.27 455.36,66.87 457.3,67.26 459.23,67.9 461.17,70.07 463.11,70.82 465.04,70.51 466.98,72.36 468.92,72.01 470.85,73.07 472.79,73.8 474.73,73.61 476.67,76 478.6,75.5 480.54,78.19 482.48,76.36 484.41,79.26 486.35,77.46 488.29,77.58 490.22,78.99 492.16,79.29 494.1,79.97 496.03,79 497.97,80.63 499.91,80.52 501.85,82.25 503.78,80.24 505.72,81.61 507.66,81.75 509.59,82.08 511.53,81.96 513.47,82.81 515.4,83.19 517.34,82.31 519.28,83.91 521.21,82.3 523.15,84.1 525.09,83.74 527.02,83.48 528.96,83.64 530.9,83.48 532.84,84.5 534.77,84.67 536.71,84.38 538.65,86.54 540.58,84.82 542.52,86.23 544.46,86.32 546.39,86.81 548.33,86.63 550.27,86.67 552.2,87.31 554.14,87.01 556.08,88.59 558.02,87.62 559.95,87.38 561.89,88.74 563.83,86.53 565.76,89.08 567.7,89.68 567.7,106.6" fill="#c2c3ba"/>
<polygon points="405,106.6 405,49.65 406.94,51.13 408.87,53.38 410.81,52.98 412.75,53.46 414.68,54.58 416.62,55.11 418.56,55.79 420.5,56.44 422.43,58.72 424.37,60.37 426.31,61.08 428.24,63.2 430.18,63.94 432.12,64.02 434.05,66.32 435.99,67.94 437.93,68.21 439.86,69.44 441.8,71.43 443.74,71.31 445.68,71.85 447.61,73.29 449.55,73.54 451.49,75.37 453.42,76.43 455.36,76.37 457.3,76.15 459.23,76.47 461.17,77 463.11,78.48 465.04,79.58 466.98,81.69 468.92,81.33 470.85,81.81 472.79,81.4 474.73,82.64 476.67,83.98 478.6,86.15 480.54,85.14 482.48,85.28 484.41,86.89 486.35,87.13 488.29,87.01 490.22,87.79 492.16,88.79 494.1,89.7 496.03,89.57 497.97,88.89 499.91,90.77 501.85,90.55 503.78,89.82 505.72,89.86 507.66,90.34 509.59,91.31 511.53,91.97 513.47,92.3 515.4,92.42 517.34,92.63 519.28,94.1 521.21,95.27 523.15,93.36 525.09,93.3 527.02,93.87 528.96,94.4 530.9,94.56 532.84,94.43 534.77,94.23 536.71,93.97 538.65,94.34 540.58,94.71 542.52,94.82 544.46,94.33 546.39,95.81 548.33,95.15 550.27,94.29 552.2,96.43 554.14,95.13 556.08,94.75 558.02,95.81 559.95,95.17 561.89,95.89 563.83,95.15 565.76,94.89 567.7,96.24 567.7,106.6" fill="#b8c6bd"/>
<polygon points="405,106.6 405,58.77 406.94,59.6 408.87,60.3 410.81,61.82 412.75,63.66 414.68,64.3 416.62,64.37 418.56,65.44 420.5,67.38 422.43,67.59 424.37,68.54 426.31,69.47 428.24,71.68 430.18,72.27 432.12,72.41 434.05,74.28 435.99,76.67 437.93,79.95 439.86,78.93 441.8,81.53 443.74,83.25 445.68,84 447.61,85.37 449.55,85.79 451.49,86.9 453.42,87.55 455.36,88.21 457.3,89.49 459.23,90.52 461.17,90.61 463.11,92.19 465.04,93.06 466.98,92.58 468.92,94.12 470.85,96.23 472.79,96.66 474.73,97.88 476.67,98.24 478.6,97.39 480.54,98.81 482.48,98.53 484.41,99.87 486.35,101.17 488.29,100.1 490.22,100.84 492.16,100.1 494.1,100.29 496.03,99.57 497.97,100.41 499.91,100.04 501.85,102.51 503.78,101.52 505.72,99.94 507.66,102.17 509.59,102.99 511.53,103.17 513.47,103.18 515.4,102.31 517.34,104 519.28,104.6 521.21,103.14 523.15,103.85 525.09,103.95 527.02,104.16 528.96,102.85 530.9,102.94 532.84,101.91 534.77,103.48 536.71,104.6 538.65,104.17 540.58,104.3 542.52,103.8 544.46,103.58 546.39,103.38 548.33,104.34 550.27,104.15 552.2,104.55 554.14,104.6 556.08,104.04 558.02,102.81 559.95,103.29 561.89,104.36 563.83,104.13 565.76,104.03 567.7,104.3 567.7,106.6" fill="#d9ecdd"/>
<polygon points="405,106.6 405,62.27 406.94,64.92 408.87,65.13 410.81,63.77 412.75,64.59 414.68,67.62 416.62,65.79 418.56,66.3 420.5,69.04 422.43,70.8 424.37,72.94 426.31,75.33 428.24,75.08 430.18,77.48 432.12,78.17 434.05,78.79 435.99,82.24 437.93,84.9 439.86,83.96 441.8,84.08 443.74,87.68 445.68,86.39 447.61,88.7 449.55,89.46 451.49,91.19 453.42,92.52 455.36,91.84 457.3,93.9 459.23,96.5 461.17,98.24 463.11,99.68 465.04,100.91 466.98,99.75 468.92,100.75 470.85,101.41 472.79,102.42 474.73,103.25 476.67,103.79 478.6,102.77 480.54,103.53 482.48,103.3 484.41,104.48 486.35,104.19 488.29,102.73 490.22,104.21 492.16,103.9 494.1,104.6 496.03,103.99 497.97,104.51 499.91,104.12 501.85,103.67 503.78,104.6 505.72,104.6 507.66,104.6 509.59,104.6 511.53,104.6 513.47,104.53 515.4,104.6 517.34,103.17 519.28,103.54 521.21,103.17 523.15,103.44 525.09,103.58 527.02,103.7 528.96,104.55 530.9,104.6 532.84,104.6 534.77,104.6 536.71,104.32 538.65,104.6 540.58,104.6 542.52,104.6 544.46,104.14 546.39,104.6 548.33,104.6 550.27,104.14 552.2,104.6 554.14,104.6 556.08,104.6 558.02,103.49 559.95,102.66 561.89,104.23 563.83,104.08 565.76,104.6 567.7,104.6 567.7,106.6" fill="#ffffff"/>
<line x1="408" y1="89.08" x2="567.7" y2="89.08" stroke="#7a7a7a" stroke-width="1.0" stroke-dasharray="1.55,1.32"/>
<polyline points="405,42.57 406.94,43.29 408.87,42.89 410.81,41.44 412.75,44.8 414.68,42.25 416.62,42.38 418.56,44.85 420.5,43.54 422.43,47.96 424.37,46.1 426.31,45.53 428.24,47.57 430.18,47.75 432.12,46.47 434.05,48.21 435.99,50.37 437.93,48.8 439.86,49.55 441.8,50.46 443.74,53.28 445.68,49.7 447.61,53.18 449.55,53.35 451.49,54.75 453.42,54.98 455.36,56.12 457.3,56.63 459.23,55.96 461.17,59.56 463.11,58.31 465.04,59.92 466.98,60.61 468.92,60.18 470.85,62.28 472.79,59.81 474.73,62.35 476.67,62.5 478.6,63.24 480.54,62.84 482.48,63.91 484.41,64.02 486.35,64.38 488.29,64.82 490.22,65.82 492.16,66.07 494.1,67.35 496.03,68.01 497.97,67.6 499.91,67.75 501.85,69.55 503.78,69.02 505.72,68.78 507.66,69.4 509.59,70.76 511.53,70.65 513.47,70.83 515.4,70.15 517.34,71.82 519.28,71.38 521.21,71.14 523.15,71.72 525.09,71.4 527.02,72.49 528.96,72.92 530.9,73.18 532.84,74.29 534.77,72.79 536.71,74.58 538.65,75.39 540.58,75.2 542.52,76.76 544.46,75 546.39,76.39 548.33,75.76 550.27,75.74 552.2,77.9 554.14,77.99 556.08,77.91 558.02,77.37 559.95,78.62 561.89,79.12 563.83,79.73 565.76,79.9 567.7,79.8" fill="none" stroke="#c4261c" stroke-width="1.5" stroke-linejoin="round"/>
<polyline points="405,45.78 406.94,48.58 408.87,46.2 410.81,48.15 412.75,50.01 414.68,49 416.62,50.37 418.56,51.61 420.5,52.36 422.43,54.52 424.37,54.82 426.31,55.08 428.24,55.66 430.18,56.57 432.12,57.5 434.05,58.59 435.99,59.27 437.93,60.13 439.86,60.13 441.8,61.18 443.74,63.56 445.68,61.9 447.61,63.68 449.55,64.52 451.49,66.03 453.42,67.27 455.36,66.87 457.3,67.26 459.23,67.9 461.17,70.07 463.11,70.82 465.04,70.51 466.98,72.36 468.92,72.01 470.85,73.07 472.79,73.8 474.73,73.61 476.67,76 478.6,75.5 480.54,78.19 482.48,76.36 484.41,79.26 486.35,77.46 488.29,77.58 490.22,78.99 492.16,79.29 494.1,79.97 496.03,79 497.97,80.63 499.91,80.52 501.85,82.25 503.78,80.24 505.72,81.61 507.66,81.75 509.59,82.08 511.53,81.96 513.47,82.81 515.4,83.19 517.34,82.31 519.28,83.91 521.21,82.3 523.15,84.1 525.09,83.74 527.02,83.48 528.96,83.64 530.9,83.48 532.84,84.5 534.77,84.67 536.71,84.38 538.65,86.54 540.58,84.82 542.52,86.23 544.46,86.32 546.39,86.81 548.33,86.63 550.27,86.67 552.2,87.31 554.14,87.01 556.08,88.59 558.02,87.62 559.95,87.38 561.89,88.74 563.83,86.53 565.76,89.08 567.7,89.68" fill="none" stroke="#0d0d0d" stroke-width="1.7" stroke-linejoin="round"/>
<polyline points="405,51.99 406.94,53.13 408.87,53.85 410.81,54.87 412.75,54.37 414.68,55.9 416.62,56.25 418.56,58.08 420.5,59.98 422.43,61.04 424.37,61.54 426.31,62.64 428.24,62.79 430.18,65.21 432.12,65.04 434.05,67.77 435.99,68.09 437.93,69.75 439.86,71.1 441.8,72.22 443.74,73.22 445.68,73.67 447.61,74.3 449.55,75.21 451.49,78.16 453.42,76.73 455.36,76.09 457.3,78.53 459.23,77.58 461.17,79.58 463.11,80.16 465.04,80.83 466.98,81.6 468.92,82.25 470.85,83.24 472.79,82.68 474.73,85.1 476.67,85.67 478.6,85.13 480.54,87.16 482.48,88.45 484.41,87.93 486.35,88.93 488.29,87.68 490.22,89.96 492.16,89.56 494.1,90.09 496.03,89.59 497.97,91.66 499.91,90.91 501.85,91.52 503.78,92.1 505.72,91.94 507.66,92.24 509.59,91.97 511.53,93.91 513.47,93.85 515.4,93.97 517.34,93.19 519.28,94.62 521.21,92.51 523.15,94.78 525.09,94.15 527.02,94.39 528.96,93.95 530.9,95.35 532.84,95.05 534.77,95.42 536.71,94.99 538.65,95.94 540.58,95.6 542.52,96.3 544.46,95.34 546.39,96.02 548.33,96.44 550.27,94.23 552.2,96.33 554.14,97.41 556.08,95.29 558.02,97.61 559.95,95.46 561.89,98.13 563.83,96.14 565.76,97.89 567.7,96.22" fill="none" stroke="#0c8212" stroke-width="1.5" stroke-linejoin="round"/>
</g>
<rect x="405" y="7.9" width="162.7" height="96.7" fill="none" stroke="#2b2b2b" stroke-width="1.5"/>
<line x1="403.2" y1="104.6" x2="405" y2="104.6" stroke="#333" stroke-width="0.6"/>
<text x="402.4" y="106.9" font-size="6.8" text-anchor="end" class="tk">0</text>
<line x1="403.2" y1="83.11" x2="405" y2="83.11" stroke="#333" stroke-width="0.6"/>
<text x="402.4" y="85.41" font-size="6.8" text-anchor="end" class="tk">20</text>
<line x1="403.2" y1="61.62" x2="405" y2="61.62" stroke="#333" stroke-width="0.6"/>
<text x="402.4" y="63.92" font-size="6.8" text-anchor="end" class="tk">40</text>
<line x1="403.2" y1="40.13" x2="405" y2="40.13" stroke="#333" stroke-width="0.6"/>
<text x="402.4" y="42.43" font-size="6.8" text-anchor="end" class="tk">60</text>
<line x1="403.2" y1="18.64" x2="405" y2="18.64" stroke="#333" stroke-width="0.6"/>
<text x="402.4" y="20.94" font-size="6.8" text-anchor="end" class="tk">80</text>
<line x1="412.75" y1="104.6" x2="412.75" y2="106.4" stroke="#333" stroke-width="0.6"/>
<text x="412.75" y="112.1" font-size="6.8" text-anchor="middle" class="tk">2020</text>
<line x1="432.12" y1="104.6" x2="432.12" y2="106.4" stroke="#333" stroke-width="0.6"/>
<text x="432.12" y="112.1" font-size="6.8" text-anchor="middle" class="tk">2030</text>
<line x1="451.49" y1="104.6" x2="451.49" y2="106.4" stroke="#333" stroke-width="0.6"/>
<text x="451.49" y="112.1" font-size="6.8" text-anchor="middle" class="tk">2040</text>
<line x1="470.85" y1="104.6" x2="470.85" y2="106.4" stroke="#333" stroke-width="0.6"/>
<text x="470.85" y="112.1" font-size="6.8" text-anchor="middle" class="tk">2050</text>
<line x1="490.22" y1="104.6" x2="490.22" y2="106.4" stroke="#333" stroke-width="0.6"/>
<text x="490.22" y="112.1" font-size="6.8" text-anchor="middle" class="tk">2060</text>
<line x1="509.59" y1="104.6" x2="509.59" y2="106.4" stroke="#333" stroke-width="0.6"/>
<text x="509.59" y="112.1" font-size="6.8" text-anchor="middle" class="tk">2070</text>
<line x1="528.96" y1="104.6" x2="528.96" y2="106.4" stroke="#333" stroke-width="0.6"/>
<text x="528.96" y="112.1" font-size="6.8" text-anchor="middle" class="tk">2080</text>
<line x1="548.33" y1="104.6" x2="548.33" y2="106.4" stroke="#333" stroke-width="0.6"/>
<text x="548.33" y="112.1" font-size="6.8" text-anchor="middle" class="tk">2090</text>
<line x1="567.7" y1="104.6" x2="567.7" y2="106.4" stroke="#333" stroke-width="0.6"/>
<text x="567.7" y="112.1" font-size="6.8" text-anchor="middle" class="tk">2100</text>
<text x="486.35" y="119" font-size="6.3" text-anchor="middle" class="tk">Year</text>
<text transform="translate(391.8,56.25) rotate(-90)" font-size="6.9" text-anchor="middle" class="tk">Sea ice concentration (%)</text>
<text x="405.4" y="5.7" font-size="7.8" font-weight="bold" stroke="#1a1a1a" stroke-width="0.2" textLength="11.6" lengthAdjust="spacingAndGlyphs">(C)</text>
<text x="420.5" y="5.7" font-size="7.9" stroke="#1a1a1a" stroke-width="0.12" textLength="44.6" lengthAdjust="spacingAndGlyphs">ASO sea ice</text>
<text x="567.7" y="5.7" font-size="7" text-anchor="end" fill="#5a5a5a">SSP2-4.5</text>
<clipPath id="cD"><rect x="114.1" y="135.4" width="162.7" height="96.8"/></clipPath>
<g clip-path="url(#cD)">
<polygon points="114.1,234.2 114.1,153.33 116.04,151.04 117.97,151.43 119.91,151.83 121.85,149.74 123.78,150.19 125.72,150.96 127.66,154.22 129.6,155.58 131.53,151.88 133.47,151.52 135.41,152.5 137.34,153.76 139.28,153.74 141.22,151.13 143.15,155.7 145.09,155.39 147.03,155.99 148.96,154.23 150.9,150.59 152.84,155.44 154.78,158.39 156.71,159.55 158.65,160.85 160.59,159.43 162.52,159.57 164.46,157.39 166.4,160.58 168.33,161.21 170.27,159.97 172.21,162.28 174.14,161.04 176.08,162.35 178.02,163.26 179.95,164.3 181.89,166.52 183.83,166.19 185.77,168.55 187.7,168.41 189.64,169.55 191.58,169.77 193.51,172.2 195.45,174.06 197.39,174.13 199.32,174.19 201.26,174.37 203.2,174.33 205.13,174.87 207.07,174.91 209.01,173.12 210.95,176.37 212.88,174.06 214.82,179.5 216.76,180.96 218.69,183.6 220.63,184.31 222.57,183.5 224.5,183.81 226.44,185.54 228.38,188.93 230.31,189.55 232.25,185.08 234.19,188.77 236.12,187.53 238.06,188.41 240,189.61 241.94,190.45 243.87,191.41 245.81,192.01 247.75,191.11 249.68,192.59 251.62,192.04 253.56,194.49 255.49,192.91 257.43,195.83 259.37,195.18 261.3,197.1 263.24,197.22 265.18,197.12 267.12,196.82 269.05,197.69 270.99,199.64 272.93,202.89 274.86,198.76 276.8,201.73 276.8,234.2" fill="#f0e3e2"/>
<polygon points="114.1,234.2 114.1,158.23 116.04,157.58 117.97,159.02 119.91,159.54 121.85,160.28 123.78,161.67 125.72,162.81 127.66,162.95 129.6,161.25 131.53,164.74 133.47,163.81 135.41,164.67 137.34,166.19 139.28,165.39 141.22,161.72 143.15,166.67 145.09,165.46 147.03,165.44 148.96,167.04 150.9,168.51 152.84,168.6 154.78,171.24 156.71,170.98 158.65,171.42 160.59,172.08 162.52,168.43 164.46,172.9 166.4,175.59 168.33,174.33 170.27,176.12 172.21,176.81 174.14,177.7 176.08,179.07 178.02,179.02 179.95,180.78 181.89,174.93 183.83,177.13 185.77,179.23 187.7,180.1 189.64,180.8 191.58,181.88 193.51,182.46 195.45,182.81 197.39,181.98 199.32,184.41 201.26,183.73 203.2,185.52 205.13,188.39 207.07,188.64 209.01,190.43 210.95,190.72 212.88,190.54 214.82,191.73 216.76,191.67 218.69,193.66 220.63,193.22 222.57,192.75 224.5,195.17 226.44,195.81 228.38,196.91 230.31,197.32 232.25,198.64 234.19,199.95 236.12,200.89 238.06,202.97 240,201.6 241.94,202.6 243.87,202.82 245.81,202.91 247.75,202.63 249.68,201.75 251.62,200.95 253.56,203.23 255.49,203.3 257.43,205.04 259.37,205.69 261.3,206.72 263.24,207.33 265.18,208.38 267.12,206.52 269.05,208.09 270.99,205.72 272.93,208.86 274.86,207.92 276.8,209.6 276.8,234.2" fill="#c9bfbf"/>
<polygon points="114.1,234.2 114.1,170.14 116.04,170.95 117.97,171.74 119.91,172.94 121.85,173.11 123.78,173.82 125.72,175.47 127.66,174.85 129.6,176.81 131.53,175.99 133.47,176.87 135.41,177.58 137.34,178.93 139.28,178.55 141.22,179.75 143.15,178.65 145.09,179.13 147.03,179.11 148.96,180.33 150.9,180.55 152.84,183.67 154.78,186.97 156.71,186.55 158.65,185.93 160.59,189.38 162.52,188.7 164.46,187.78 166.4,188.73 168.33,189.26 170.27,189.14 172.21,192.84 174.14,194.94 176.08,192.02 178.02,192.8 179.95,193.61 181.89,193.92 183.83,195.33 185.77,196.79 187.7,197.27 189.64,199.77 191.58,199.77 193.51,201.58 195.45,200.97 197.39,201 199.32,204.56 201.26,203.76 203.2,203 205.13,204.68 207.07,204.52 209.01,204.32 210.95,207.38 212.88,206.89 214.82,207.44 216.76,208.89 218.69,212.12 220.63,209.08 222.57,210.57 224.5,211.3 226.44,213.36 228.38,214.28 230.31,214.39 232.25,213.82 234.19,214.97 236.12,215.63 238.06,216.59 240,217.06 241.94,218.7 243.87,217.12 245.81,216.92 247.75,217.3 249.68,217.42 251.62,219.33 253.56,220.49 255.49,219.93 257.43,221.49 259.37,221.48 261.3,220.97 263.24,221.35 265.18,221.59 267.12,219.42 269.05,220.4 270.99,220.72 272.93,222.06 274.86,222.42 276.8,220.48 276.8,234.2" fill="#c8c5be"/>
<polygon points="114.1,234.2 114.1,173.46 116.04,174.97 117.97,174.82 119.91,175.57 121.85,176.61 123.78,177.84 125.72,179.22 127.66,178.46 129.6,180.67 131.53,181.48 133.47,182.41 135.41,182.47 137.34,183.01 139.28,183 141.22,184.95 143.15,185.44 145.09,186.05 147.03,184.64 148.96,187 150.9,185.37 152.84,189.51 154.78,190.34 156.71,190.07 158.65,190.27 160.59,193.19 162.52,192.51 164.46,193.57 166.4,194.43 168.33,195.91 170.27,195.65 172.21,197.75 174.14,195.95 176.08,198.05 178.02,198.08 179.95,198.43 181.89,199.35 183.83,199.83 185.77,200.24 187.7,202.38 189.64,202.16 191.58,204.8 193.51,205.09 195.45,206.35 197.39,207.53 199.32,208.34 201.26,207.98 203.2,210.04 205.13,209.82 207.07,210.71 209.01,211.32 210.95,211.43 212.88,211.45 214.82,212.98 216.76,213.06 218.69,214.19 220.63,214.25 222.57,215.19 224.5,217.08 226.44,216.92 228.38,218.34 230.31,218.1 232.25,218.69 234.19,218.95 236.12,220.38 238.06,218.64 240,221.33 241.94,220.9 243.87,220.8 245.81,221.39 247.75,222.04 249.68,222.78 251.62,221.23 253.56,224.42 255.49,223.62 257.43,223.63 259.37,224.44 261.3,224.31 263.24,223.54 265.18,224.74 267.12,224.28 269.05,224.35 270.99,225.36 272.93,224.55 274.86,226.24 276.8,224.23 276.8,234.2" fill="#c2c3ba"/>
<polygon points="114.1,234.2 114.1,179 116.04,179.84 117.97,181.63 119.91,183.62 121.85,183.65 123.78,185.86 125.72,185.09 127.66,185.9 129.6,186.42 131.53,188.02 133.47,188.9 135.41,190.38 137.34,193.03 139.28,192.72 141.22,195.18 143.15,196.62 145.09,196.97 147.03,197.78 148.96,197.98 150.9,199.56 152.84,200.55 154.78,201.65 156.71,202.23 158.65,202.33 160.59,203 162.52,204.44 164.46,206.41 166.4,206.11 168.33,207.5 170.27,207.41 172.21,208.32 174.14,210.79 176.08,209.84 178.02,210.62 179.95,212.44 181.89,213.25 183.83,215.3 185.77,213.72 187.7,214.59 189.64,215.19 191.58,214.41 193.51,215.29 195.45,217 197.39,218.15 199.32,218.81 201.26,218.11 203.2,218.55 205.13,219.2 207.07,220.29 209.01,220.92 210.95,221.07 212.88,221.14 214.82,222.38 216.76,221.65 218.69,221.74 220.63,222.47 222.57,223.69 224.5,224.15 226.44,224.26 228.38,225.41 230.31,225.79 232.25,226.46 234.19,225.41 236.12,225.14 238.06,225.84 240,226.84 241.94,227.54 243.87,227.14 245.81,227.21 247.75,227.04 249.68,227.42 251.62,228.42 253.56,228.28 255.49,228.78 257.43,228.6 259.37,228.7 261.3,229.77 263.24,229.73 265.18,229.34 267.12,229.3 269.05,229.09 270.99,229.42 272.93,229.53 274.86,229.15 276.8,229.51 276.8,234.2" fill="#b8c6bd"/>
<polygon points="114.1,234.2 114.1,190.5 116.04,192.23 117.97,191.83 119.91,193.64 121.85,194.44 123.78,196.18 125.72,197.26 127.66,198.27 129.6,199.04 131.53,199.24 133.47,199.92 135.41,202.47 137.34,204 139.28,204.4 141.22,206 143.15,207.54 145.09,207.6 147.03,209.34 148.96,211.22 150.9,211.82 152.84,214.19 154.78,215.99 156.71,217.13 158.65,216.52 160.59,216.89 162.52,218.89 164.46,220.46 166.4,222.53 168.33,221.65 170.27,221.86 172.21,224.03 174.14,225.19 176.08,224.38 178.02,226.29 179.95,228.42 181.89,227.99 183.83,227.31 185.77,229.45 187.7,230.32 189.64,229.51 191.58,230.23 193.51,231.1 195.45,230.62 197.39,231.51 199.32,230.94 201.26,231.33 203.2,232.2 205.13,232.2 207.07,232.2 209.01,232.2 210.95,232 212.88,231.55 214.82,232.2 216.76,231.81 218.69,232.2 220.63,231.92 222.57,232.2 224.5,232.2 226.44,231.63 228.38,232.2 230.31,232.2 232.25,231.75 234.19,232.2 236.12,232.2 238.06,232.2 240,232.2 241.94,232.2 243.87,231.97 245.81,232 247.75,232.2 249.68,232.2 251.62,231.6 253.56,232.2 255.49,232.2 257.43,232.2 259.37,232.2 261.3,232.2 263.24,232.2 265.18,232.2 267.12,232.2 269.05,232.2 270.99,232.2 272.93,232.2 274.86,232.03 276.8,232.2 276.8,234.2" fill="#d9ecdd"/>
<polygon points="114.1,234.2 114.1,193.96 116.04,194.78 117.97,195.29 119.91,196.21 121.85,198.11 123.78,198.73 125.72,200.53 127.66,201.24 129.6,202.72 131.53,206.3 133.47,206.17 135.41,207.28 137.34,208.78 139.28,208.93 141.22,211.84 143.15,215.5 145.09,213.37 147.03,213.53 148.96,214.82 150.9,214.9 152.84,216.57 154.78,218.17 156.71,219.62 158.65,221.97 160.59,222.55 162.52,222.39 164.46,223.19 166.4,224.46 168.33,226.01 170.27,226.45 172.21,230 174.14,230.57 176.08,230.1 178.02,230.31 179.95,231.99 181.89,232.2 183.83,232.2 185.77,232.2 187.7,232.2 189.64,232.2 191.58,232.2 193.51,232.2 195.45,231.69 197.39,230.51 199.32,232.2 201.26,232.2 203.2,231.7 205.13,232.05 207.07,231.76 209.01,231.95 210.95,232.13 212.88,231.7 214.82,231.76 216.76,232.08 218.69,232.2 220.63,231.71 222.57,231.88 224.5,232.2 226.44,232.16 228.38,232.2 230.31,232.2 232.25,232.2 234.19,232.2 236.12,232.2 238.06,232.2 240,232.03 241.94,230.88 243.87,231.68 245.81,231.59 247.75,230.18 249.68,231.48 251.62,230.61 253.56,230.92 255.49,231.3 257.43,232.2 259.37,232.2 261.3,232.2 263.24,232.2 265.18,232.2 267.12,232.2 269.05,232.19 270.99,232.2 272.93,232.2 274.86,231.68 276.8,231.62 276.8,234.2" fill="#ffffff"/>
<line x1="117.1" y1="216.67" x2="276.8" y2="216.67" stroke="#7a7a7a" stroke-width="1.0" stroke-dasharray="1.55,1.32"/>
<polyline points="114.1,165.54 116.04,167.92 117.97,168.47 119.91,167.49 121.85,169.41 123.78,169.76 125.72,171.49 127.66,170.83 129.6,170.21 131.53,171.76 133.47,172.74 135.41,173.53 137.34,172.99 139.28,173.5 141.22,172.9 143.15,174.97 145.09,172.6 147.03,174.1 148.96,174.16 150.9,174.4 152.84,175.19 154.78,178.05 156.71,178.07 158.65,177.98 160.59,179.18 162.52,181.5 164.46,181.37 166.4,183.78 168.33,184.34 170.27,184.45 172.21,185.75 174.14,188.2 176.08,184.04 178.02,186.85 179.95,186.24 181.89,188.87 183.83,188.22 185.77,192.23 187.7,191.44 189.64,191.01 191.58,195.19 193.51,193.53 195.45,193.14 197.39,196.49 199.32,197.73 201.26,196.44 203.2,199.13 205.13,199.62 207.07,200.01 209.01,200.39 210.95,200.5 212.88,201.45 214.82,203.28 216.76,203.87 218.69,204.57 220.63,206.38 222.57,207.63 224.5,208.86 226.44,206.68 228.38,209.44 230.31,208.32 232.25,210.05 234.19,209.84 236.12,210.61 238.06,210.72 240,211.36 241.94,212.56 243.87,212.38 245.81,212.23 247.75,213.38 249.68,213.94 251.62,213.37 253.56,214.28 255.49,214.26 257.43,215.79 259.37,215.39 261.3,216.29 263.24,215.73 265.18,218.26 267.12,216.09 269.05,220.19 270.99,216.81 272.93,217.09 274.86,218.31 276.8,218.9" fill="none" stroke="#c4261c" stroke-width="1.5" stroke-linejoin="round"/>
<polyline points="114.1,173.46 116.04,174.97 117.97,174.82 119.91,175.57 121.85,176.61 123.78,177.84 125.72,179.22 127.66,178.46 129.6,180.67 131.53,181.48 133.47,182.41 135.41,182.47 137.34,183.01 139.28,183 141.22,184.95 143.15,185.44 145.09,186.05 147.03,184.64 148.96,187 150.9,185.37 152.84,189.51 154.78,190.34 156.71,190.07 158.65,190.27 160.59,193.19 162.52,192.51 164.46,193.57 166.4,194.43 168.33,195.91 170.27,195.65 172.21,197.75 174.14,195.95 176.08,198.05 178.02,198.08 179.95,198.43 181.89,199.35 183.83,199.83 185.77,200.24 187.7,202.38 189.64,202.16 191.58,204.8 193.51,205.09 195.45,206.35 197.39,207.53 199.32,208.34 201.26,207.98 203.2,210.04 205.13,209.82 207.07,210.71 209.01,211.32 210.95,211.43 212.88,211.45 214.82,212.98 216.76,213.06 218.69,214.19 220.63,214.25 222.57,215.19 224.5,217.08 226.44,216.92 228.38,218.34 230.31,218.1 232.25,218.69 234.19,218.95 236.12,220.38 238.06,218.64 240,221.33 241.94,220.9 243.87,220.8 245.81,221.39 247.75,222.04 249.68,222.78 251.62,221.23 253.56,224.42 255.49,223.62 257.43,223.63 259.37,224.44 261.3,224.31 263.24,223.54 265.18,224.74 267.12,224.28 269.05,224.35 270.99,225.36 272.93,224.55 274.86,226.24 276.8,224.23" fill="none" stroke="#0d0d0d" stroke-width="1.7" stroke-linejoin="round"/>
<polyline points="114.1,181.25 116.04,181.31 117.97,181.67 119.91,183.9 121.85,184.36 123.78,186.29 125.72,185.52 127.66,188.39 129.6,188.49 131.53,188.37 133.47,190.54 135.41,192.17 137.34,193.36 139.28,194.08 141.22,195.14 143.15,195.9 145.09,197.67 147.03,197.1 148.96,200.44 150.9,200.35 152.84,200.13 154.78,202.31 156.71,202.46 158.65,202.9 160.59,204.29 162.52,205.36 164.46,205.89 166.4,207 168.33,208.82 170.27,208.14 172.21,211.26 174.14,210.27 176.08,211.02 178.02,210.64 179.95,213.91 181.89,211.23 183.83,214.62 185.77,214.82 187.7,215.27 189.64,215.48 191.58,217.71 193.51,217.47 195.45,217.85 197.39,218.94 199.32,220.27 201.26,218.85 203.2,219.85 205.13,220.85 207.07,221.87 209.01,220.91 210.95,221.6 212.88,222.25 214.82,223.46 216.76,222.7 218.69,223.67 220.63,223.23 222.57,224.08 224.5,225.86 226.44,224 228.38,226.18 230.31,226.92 232.25,225.97 234.19,226.99 236.12,228.36 238.06,227.29 240,227.74 241.94,227.13 243.87,228.94 245.81,230.05 247.75,228.74 249.68,229.01 251.62,230.28 253.56,229.3 255.49,229 257.43,229.87 259.37,229.95 261.3,229.25 263.24,230.26 265.18,230.34 267.12,229.07 269.05,230.93 270.99,230.12 272.93,230.22 274.86,229.63 276.8,231.25" fill="none" stroke="#0c8212" stroke-width="1.5" stroke-linejoin="round"/>
</g>
<rect x="114.1" y="135.4" width="162.7" height="96.8" fill="none" stroke="#2b2b2b" stroke-width="1.5"/>
<line x1="112.3" y1="232.2" x2="114.1" y2="232.2" stroke="#333" stroke-width="0.6"/>
<text x="111.5" y="234.5" font-size="6.8" text-anchor="end" class="tk">0</text>
<line x1="112.3" y1="210.69" x2="114.1" y2="210.69" stroke="#333" stroke-width="0.6"/>
<text x="111.5" y="212.99" font-size="6.8" text-anchor="end" class="tk">20</text>
<line x1="112.3" y1="189.18" x2="114.1" y2="189.18" stroke="#333" stroke-width="0.6"/>
<text x="111.5" y="191.48" font-size="6.8" text-anchor="end" class="tk">40</text>
<line x1="112.3" y1="167.67" x2="114.1" y2="167.67" stroke="#333" stroke-width="0.6"/>
<text x="111.5" y="169.97" font-size="6.8" text-anchor="end" class="tk">60</text>
<line x1="112.3" y1="146.16" x2="114.1" y2="146.16" stroke="#333" stroke-width="0.6"/>
<text x="111.5" y="148.46" font-size="6.8" text-anchor="end" class="tk">80</text>
<line x1="121.85" y1="232.2" x2="121.85" y2="234" stroke="#333" stroke-width="0.6"/>
<text x="121.85" y="239.7" font-size="6.8" text-anchor="middle" class="tk">2020</text>
<line x1="141.22" y1="232.2" x2="141.22" y2="234" stroke="#333" stroke-width="0.6"/>
<text x="141.22" y="239.7" font-size="6.8" text-anchor="middle" class="tk">2030</text>
<line x1="160.59" y1="232.2" x2="160.59" y2="234" stroke="#333" stroke-width="0.6"/>
<text x="160.59" y="239.7" font-size="6.8" text-anchor="middle" class="tk">2040</text>
<line x1="179.95" y1="232.2" x2="179.95" y2="234" stroke="#333" stroke-width="0.6"/>
<text x="179.95" y="239.7" font-size="6.8" text-anchor="middle" class="tk">2050</text>
<line x1="199.32" y1="232.2" x2="199.32" y2="234" stroke="#333" stroke-width="0.6"/>
<text x="199.32" y="239.7" font-size="6.8" text-anchor="middle" class="tk">2060</text>
<line x1="218.69" y1="232.2" x2="218.69" y2="234" stroke="#333" stroke-width="0.6"/>
<text x="218.69" y="239.7" font-size="6.8" text-anchor="middle" class="tk">2070</text>
<line x1="238.06" y1="232.2" x2="238.06" y2="234" stroke="#333" stroke-width="0.6"/>
<text x="238.06" y="239.7" font-size="6.8" text-anchor="middle" class="tk">2080</text>
<line x1="257.43" y1="232.2" x2="257.43" y2="234" stroke="#333" stroke-width="0.6"/>
<text x="257.43" y="239.7" font-size="6.8" text-anchor="middle" class="tk">2090</text>
<line x1="276.8" y1="232.2" x2="276.8" y2="234" stroke="#333" stroke-width="0.6"/>
<text x="276.8" y="239.7" font-size="6.8" text-anchor="middle" class="tk">2100</text>
<text x="195.45" y="246.6" font-size="6.3" text-anchor="middle" class="tk">Year</text>
<text transform="translate(100.9,183.8) rotate(-90)" font-size="6.9" text-anchor="middle" class="tk">Sea ice concentration (%)</text>
<text x="114.5" y="133.2" font-size="7.8" font-weight="bold" stroke="#1a1a1a" stroke-width="0.2" textLength="11.6" lengthAdjust="spacingAndGlyphs">(D)</text>
<text x="129.6" y="133.2" font-size="7.9" stroke="#1a1a1a" stroke-width="0.12" textLength="44.6" lengthAdjust="spacingAndGlyphs">ASO sea ice</text>
<text x="276.8" y="133.2" font-size="7" text-anchor="end" fill="#5a5a5a">SSP3-7.0</text>
<clipPath id="cE"><rect x="308" y="135.4" width="162.7" height="96.8"/></clipPath>
<g clip-path="url(#cE)">
<polygon points="308,234.2 308,152.88 309.94,153.77 311.87,155.19 313.81,151.67 315.75,150.4 317.68,152.24 319.62,151.54 321.56,152.27 323.5,151.74 325.43,153.12 327.37,156.54 329.31,155.59 331.24,157.24 333.18,155.64 335.12,156.09 337.05,156.56 338.99,156.69 340.93,156.23 342.86,154.49 344.8,159.33 346.74,154.61 348.68,159.73 350.61,159.86 352.55,160.77 354.49,162.81 356.42,162.47 358.36,164.23 360.3,165.73 362.23,164.34 364.17,166.05 366.11,166.2 368.04,168.59 369.98,171.75 371.92,170.48 373.85,167.93 375.79,166.71 377.73,170.33 379.67,170.39 381.6,170.75 383.54,168.99 385.48,172.13 387.41,172.87 389.35,174.54 391.29,174.91 393.22,172.24 395.16,177.46 397.1,178.48 399.03,176.96 400.97,179.61 402.91,179.28 404.85,182.8 406.78,183.37 408.72,181.38 410.66,181.75 412.59,183.3 414.53,187.21 416.47,189.06 418.4,185.44 420.34,186.69 422.28,188.69 424.21,188.47 426.15,190.41 428.09,190.21 430.02,192 431.96,193.65 433.9,194.61 435.84,195.31 437.77,195.93 439.71,198.36 441.65,198.39 443.58,199.21 445.52,198.58 447.46,198.58 449.39,201.93 451.33,203.6 453.27,204.17 455.2,204.65 457.14,204.38 459.08,205.57 461.02,207.5 462.95,205.94 464.89,207.61 466.83,207.99 468.76,208.35 470.7,207.53 470.7,234.2" fill="#f0e3e2"/>
<polygon points="308,234.2 308,159.07 309.94,162 311.87,162.93 313.81,160.16 315.75,159.53 317.68,162.03 319.62,162.94 321.56,163.7 323.5,163.33 325.43,164.71 327.37,166.92 329.31,167.9 331.24,167.25 333.18,168.3 335.12,167 337.05,168.55 338.99,170.39 340.93,170.55 342.86,169.44 344.8,172.96 346.74,173.45 348.68,175.55 350.61,172.21 352.55,171.44 354.49,173.12 356.42,174.64 358.36,172.96 360.3,176.03 362.23,175.6 364.17,176.62 366.11,179.12 368.04,179.08 369.98,182.98 371.92,183.12 373.85,182.03 375.79,183.12 377.73,183.78 379.67,185.78 381.6,185.95 383.54,183.61 385.48,187.49 387.41,188.28 389.35,189.28 391.29,190.62 393.22,191.65 395.16,191.85 397.1,194.43 399.03,193.35 400.97,195.5 402.91,197.04 404.85,197.98 406.78,198.5 408.72,199.4 410.66,198.77 412.59,199.09 414.53,202.57 416.47,201.14 418.4,201.87 420.34,202.02 422.28,203.21 424.21,198.84 426.15,202.68 428.09,202.5 430.02,205.78 431.96,205.02 433.9,205.58 435.84,206.71 437.77,206.66 439.71,206.45 441.65,207.31 443.58,207.53 445.52,208.57 447.46,209.22 449.39,211.93 451.33,209.24 453.27,213 455.2,211.77 457.14,214.71 459.08,214.53 461.02,212.23 462.95,212.32 464.89,214.5 466.83,216.15 468.76,218.01 470.7,217.91 470.7,234.2" fill="#c9bfbf"/>
<polygon points="308,234.2 308,175.52 309.94,176.4 311.87,176.68 313.81,175.61 315.75,175.61 317.68,175.11 319.62,179.6 321.56,180.09 323.5,179.16 325.43,180.7 327.37,181.33 329.31,181.78 331.24,182.84 333.18,180.34 335.12,178.63 337.05,181.61 338.99,182.78 340.93,185.88 342.86,186.41 344.8,188.02 346.74,189.49 348.68,191.31 350.61,189.39 352.55,190.45 354.49,192.8 356.42,193.01 358.36,196.59 360.3,196.53 362.23,196.69 364.17,196.16 366.11,195.57 368.04,195.44 369.98,198.61 371.92,199.28 373.85,201.53 375.79,201.62 377.73,203.38 379.67,204.27 381.6,202.28 383.54,202.06 385.48,203.71 387.41,205.39 389.35,207.23 391.29,208.4 393.22,209.32 395.16,210.6 397.1,210.67 399.03,209.48 400.97,210.73 402.91,210.74 404.85,211.96 406.78,211.84 408.72,211.52 410.66,215.43 412.59,213.35 414.53,214.4 416.47,214.41 418.4,214.76 420.34,215.68 422.28,216.28 424.21,215.77 426.15,215.71 428.09,217.76 430.02,219.46 431.96,218.71 433.9,218.3 435.84,218.86 437.77,219.88 439.71,219.65 441.65,220.82 443.58,224.37 445.52,220.88 447.46,221.28 449.39,224.14 451.33,222.59 453.27,223.01 455.2,223.4 457.14,223.89 459.08,224.22 461.02,224.03 462.95,223.27 464.89,224.59 466.83,226.7 468.76,225.28 470.7,224.75 470.7,234.2" fill="#c8c5be"/>
<polygon points="308,234.2 308,176.88 309.94,178.01 311.87,178.8 313.81,178.14 315.75,178.63 317.68,179.87 319.62,181.54 321.56,181.96 323.5,183.62 325.43,183.92 327.37,183.94 329.31,185.4 331.24,186.85 333.18,186.88 335.12,187.76 337.05,189.01 338.99,189.52 340.93,191.93 342.86,191.88 344.8,193.48 346.74,193.01 348.68,194.47 350.61,194.62 352.55,196.38 354.49,196.07 356.42,199.35 358.36,198.43 360.3,201.67 362.23,200.12 364.17,202.08 366.11,201.24 368.04,204.45 369.98,204.85 371.92,204.64 373.85,205.05 375.79,207.63 377.73,206.73 379.67,208.86 381.6,207.37 383.54,208.39 385.48,210.72 387.41,211.22 389.35,212.34 391.29,212.96 393.22,213.19 395.16,213.83 397.1,213.25 399.03,213.89 400.97,214.79 402.91,215.13 404.85,215.7 406.78,215.89 408.72,216.16 410.66,216.33 412.59,217.25 414.53,219.24 416.47,219.99 418.4,218.7 420.34,219.97 422.28,220.58 424.21,221.08 426.15,222.33 428.09,222.33 430.02,223.05 431.96,223.18 433.9,222.95 435.84,223.96 437.77,224.48 439.71,224.95 441.65,224.36 443.58,224.57 445.52,224.68 447.46,225.37 449.39,225.33 451.33,226.55 453.27,225.23 455.2,227.1 457.14,226.02 459.08,225.52 461.02,226.83 462.95,227.81 464.89,227.48 466.83,227.19 468.76,226.67 470.7,227.41 470.7,234.2" fill="#c2c3ba"/>
<polygon points="308,234.2 308,182.9 309.94,182.14 311.87,183.16 313.81,183.86 315.75,184.45 317.68,185.98 319.62,187.8 321.56,189.5 323.5,190.76 325.43,191.74 327.37,193.21 329.31,195.48 331.24,195.72 333.18,196.13 335.12,197.9 337.05,199.94 338.99,200.03 340.93,201.39 342.86,202.12 344.8,204.02 346.74,205.13 348.68,206.91 350.61,206.19 352.55,208.14 354.49,207.17 356.42,208.7 358.36,210.99 360.3,211.86 362.23,212.27 364.17,212.09 366.11,212.94 368.04,213.17 369.98,214.78 371.92,215.03 373.85,215.47 375.79,216.19 377.73,217.62 379.67,217.27 381.6,218.41 383.54,219.04 385.48,220.59 387.41,221.42 389.35,222.56 391.29,222.24 393.22,223.05 395.16,223.83 397.1,224.43 399.03,223.14 400.97,224.54 402.91,225.77 404.85,225.15 406.78,225.88 408.72,226.49 410.66,225.14 412.59,225.59 414.53,225.94 416.47,227.33 418.4,228.2 420.34,228.52 422.28,227.83 424.21,229.65 426.15,227.6 428.09,227.87 430.02,228.48 431.96,229.09 433.9,228.22 435.84,228.16 437.77,229.56 439.71,229.9 441.65,229.51 443.58,229.56 445.52,229.97 447.46,229.37 449.39,230.44 451.33,230.08 453.27,229.46 455.2,230.19 457.14,230.79 459.08,230.84 461.02,231.03 462.95,231.34 464.89,232.2 466.83,232.15 468.76,231.36 470.7,230.72 470.7,234.2" fill="#b8c6bd"/>
<polygon points="308,234.2 308,192.69 309.94,192.74 311.87,194.03 313.81,195.22 315.75,197.97 317.68,200.03 319.62,199.61 321.56,201.52 323.5,201.83 325.43,202.33 327.37,205.08 329.31,207.1 331.24,207.91 333.18,209.37 335.12,208.96 337.05,208.25 338.99,211.34 340.93,211.76 342.86,213.96 344.8,214.81 346.74,217.99 348.68,217.56 350.61,216.93 352.55,217.13 354.49,218.01 356.42,220.41 358.36,222.87 360.3,222.79 362.23,224.18 364.17,224.76 366.11,225.92 368.04,227.04 369.98,228.21 371.92,228.68 373.85,227.76 375.79,229.83 377.73,229.19 379.67,230.13 381.6,229.61 383.54,229.58 385.48,231.15 387.41,232.2 389.35,232.2 391.29,231.78 393.22,232.2 395.16,232.2 397.1,232.11 399.03,232.2 400.97,232.2 402.91,232.2 404.85,231.78 406.78,232.14 408.72,232.2 410.66,231.87 412.59,232.2 414.53,232.2 416.47,232.2 418.4,232.2 420.34,231.33 422.28,231.93 424.21,231.23 426.15,232.2 428.09,232.2 430.02,232.2 431.96,232.2 433.9,231.46 435.84,231.67 437.77,232.2 439.71,232.2 441.65,231.96 443.58,232.2 445.52,231.99 447.46,232.04 449.39,232.2 451.33,231.68 453.27,232.2 455.2,232.09 457.14,231.66 459.08,232.2 461.02,231.92 462.95,231.12 464.89,232.2 466.83,232.2 468.76,232.2 470.7,232.2 470.7,234.2" fill="#d9ecdd"/>
<polygon points="308,234.2 308,194.31 309.94,195.16 311.87,199.39 313.81,199 315.75,197.1 317.68,200.04 319.62,200.87 321.56,201.37 323.5,204.26 325.43,205 327.37,206.33 329.31,208.43 331.24,209.58 333.18,210.28 335.12,213.3 337.05,211.38 338.99,211.16 340.93,212.42 342.86,214.93 344.8,217.88 346.74,219.47 348.68,220.84 350.61,221.1 352.55,221.84 354.49,223.89 356.42,224.1 358.36,225.34 360.3,224.57 362.23,224.49 364.17,225.92 366.11,226.26 368.04,227.26 369.98,228.95 371.92,229.3 373.85,229.64 375.79,231.4 377.73,232.2 379.67,232.02 381.6,231.54 383.54,230.34 385.48,231.86 387.41,230.92 389.35,232.2 391.29,231.81 393.22,232.2 395.16,232.2 397.1,232.2 399.03,232.2 400.97,232.19 402.91,230.84 404.85,232.2 406.78,232.2 408.72,232.2 410.66,231.75 412.59,231.56 414.53,232.2 416.47,231.44 418.4,231.55 420.34,232.2 422.28,232.2 424.21,232.2 426.15,232.2 428.09,231.77 430.02,232.2 431.96,232.2 433.9,232.2 435.84,232.2 437.77,232.2 439.71,232.2 441.65,231.85 443.58,231.15 445.52,231.83 447.46,230.82 449.39,231.08 451.33,231.11 453.27,232.2 455.2,232.2 457.14,232.2 459.08,232.2 461.02,232.2 462.95,232.2 464.89,232.2 466.83,232.2 468.76,231.63 470.7,230.72 470.7,234.2" fill="#ffffff"/>
<line x1="311" y1="216.67" x2="470.7" y2="216.67" stroke="#7a7a7a" stroke-width="1.0" stroke-dasharray="1.55,1.32"/>
<polyline points="308,172.12 309.94,169.86 311.87,171.89 313.81,168.97 315.75,168.36 317.68,170.33 319.62,170.74 321.56,171.61 323.5,172.22 325.43,173.97 327.37,175.17 329.31,174.29 331.24,172.63 333.18,174.05 335.12,173.25 337.05,175.57 338.99,177.58 340.93,180.09 342.86,180.23 344.8,181 346.74,183.61 348.68,184.5 350.61,185.52 352.55,186.22 354.49,187.01 356.42,187.72 358.36,188.74 360.3,188.46 362.23,189.31 364.17,188.39 366.11,191.62 368.04,192.32 369.98,192.17 371.92,193.12 373.85,194.32 375.79,194.31 377.73,194.28 379.67,196.62 381.6,197.02 383.54,197.87 385.48,200.6 387.41,199.99 389.35,201.58 391.29,201.92 393.22,204.63 395.16,203.52 397.1,205.89 399.03,202.02 400.97,206.35 402.91,204.86 404.85,207.2 406.78,206.28 408.72,207.09 410.66,206.55 412.59,209.46 414.53,210.64 416.47,210.46 418.4,211.24 420.34,210.56 422.28,213.4 424.21,211.02 426.15,213.08 428.09,213.21 430.02,214.7 431.96,213.27 433.9,215.58 435.84,215.71 437.77,215.98 439.71,215.36 441.65,216.33 443.58,217.72 445.52,217.76 447.46,218.7 449.39,219.46 451.33,218.06 453.27,220.9 455.2,220.08 457.14,220.55 459.08,222.12 461.02,220.48 462.95,220.95 464.89,222.1 466.83,222.22 468.76,222.73 470.7,222.83" fill="none" stroke="#c4261c" stroke-width="1.5" stroke-linejoin="round"/>
<polyline points="308,176.88 309.94,178.01 311.87,178.8 313.81,178.14 315.75,178.63 317.68,179.87 319.62,181.54 321.56,181.96 323.5,183.62 325.43,183.92 327.37,183.94 329.31,185.4 331.24,186.85 333.18,186.88 335.12,187.76 337.05,189.01 338.99,189.52 340.93,191.93 342.86,191.88 344.8,193.48 346.74,193.01 348.68,194.47 350.61,194.62 352.55,196.38 354.49,196.07 356.42,199.35 358.36,198.43 360.3,201.67 362.23,200.12 364.17,202.08 366.11,201.24 368.04,204.45 369.98,204.85 371.92,204.64 373.85,205.05 375.79,207.63 377.73,206.73 379.67,208.86 381.6,207.37 383.54,208.39 385.48,210.72 387.41,211.22 389.35,212.34 391.29,212.96 393.22,213.19 395.16,213.83 397.1,213.25 399.03,213.89 400.97,214.79 402.91,215.13 404.85,215.7 406.78,215.89 408.72,216.16 410.66,216.33 412.59,217.25 414.53,219.24 416.47,219.99 418.4,218.7 420.34,219.97 422.28,220.58 424.21,221.08 426.15,222.33 428.09,222.33 430.02,223.05 431.96,223.18 433.9,222.95 435.84,223.96 437.77,224.48 439.71,224.95 441.65,224.36 443.58,224.57 445.52,224.68 447.46,225.37 449.39,225.33 451.33,226.55 453.27,225.23 455.2,227.1 457.14,226.02 459.08,225.52 461.02,226.83 462.95,227.81 464.89,227.48 466.83,227.19 468.76,226.67 470.7,227.41" fill="none" stroke="#0d0d0d" stroke-width="1.7" stroke-linejoin="round"/>
<polyline points="308,182.16 309.94,183.08 311.87,184.37 313.81,185.79 315.75,186.53 317.68,188.61 319.62,189.05 321.56,190.91 323.5,192.17 325.43,193.05 327.37,195.17 329.31,195.85 331.24,197.58 333.18,198.79 335.12,198.35 337.05,201.11 338.99,202.02 340.93,202.05 342.86,204.4 344.8,204.71 346.74,206.13 348.68,206.04 350.61,206.85 352.55,207.1 354.49,209.08 356.42,210.75 358.36,209.56 360.3,211.87 362.23,212.28 364.17,213.3 366.11,212.05 368.04,214.53 369.98,215.87 371.92,215.61 373.85,216.37 375.79,217.55 377.73,217.63 379.67,218.53 381.6,219.15 383.54,218.44 385.48,221.8 387.41,221.11 389.35,223.18 391.29,223.01 393.22,223.41 395.16,223.38 397.1,224.48 399.03,224 400.97,224.55 402.91,226.02 404.85,225.99 406.78,226.79 408.72,227.35 410.66,225.69 412.59,227.28 414.53,229.2 416.47,228.17 418.4,227.52 420.34,230.15 422.28,228.35 424.21,228.49 426.15,229.22 428.09,230.19 430.02,230.02 431.96,230.07 433.9,230.33 435.84,228.79 437.77,230.85 439.71,229.35 441.65,232.08 443.58,229.85 445.52,230.12 447.46,230.82 449.39,230.67 451.33,230.5 453.27,230.9 455.2,230.29 457.14,231.35 459.08,230.97 461.02,231.6 462.95,231.9 464.89,231.7 466.83,230.84 468.76,230.55 470.7,232.2" fill="none" stroke="#0c8212" stroke-width="1.5" stroke-linejoin="round"/>
</g>
<rect x="308" y="135.4" width="162.7" height="96.8" fill="none" stroke="#2b2b2b" stroke-width="1.5"/>
<line x1="306.2" y1="232.2" x2="308" y2="232.2" stroke="#333" stroke-width="0.6"/>
<text x="305.4" y="234.5" font-size="6.8" text-anchor="end" class="tk">0</text>
<line x1="306.2" y1="210.69" x2="308" y2="210.69" stroke="#333" stroke-width="0.6"/>
<text x="305.4" y="212.99" font-size="6.8" text-anchor="end" class="tk">20</text>
<line x1="306.2" y1="189.18" x2="308" y2="189.18" stroke="#333" stroke-width="0.6"/>
<text x="305.4" y="191.48" font-size="6.8" text-anchor="end" class="tk">40</text>
<line x1="306.2" y1="167.67" x2="308" y2="167.67" stroke="#333" stroke-width="0.6"/>
<text x="305.4" y="169.97" font-size="6.8" text-anchor="end" class="tk">60</text>
<line x1="306.2" y1="146.16" x2="308" y2="146.16" stroke="#333" stroke-width="0.6"/>
<text x="305.4" y="148.46" font-size="6.8" text-anchor="end" class="tk">80</text>
<line x1="315.75" y1="232.2" x2="315.75" y2="234" stroke="#333" stroke-width="0.6"/>
<text x="315.75" y="239.7" font-size="6.8" text-anchor="middle" class="tk">2020</text>
<line x1="335.12" y1="232.2" x2="335.12" y2="234" stroke="#333" stroke-width="0.6"/>
<text x="335.12" y="239.7" font-size="6.8" text-anchor="middle" class="tk">2030</text>
<line x1="354.49" y1="232.2" x2="354.49" y2="234" stroke="#333" stroke-width="0.6"/>
<text x="354.49" y="239.7" font-size="6.8" text-anchor="middle" class="tk">2040</text>
<line x1="373.85" y1="232.2" x2="373.85" y2="234" stroke="#333" stroke-width="0.6"/>
<text x="373.85" y="239.7" font-size="6.8" text-anchor="middle" class="tk">2050</text>
<line x1="393.22" y1="232.2" x2="393.22" y2="234" stroke="#333" stroke-width="0.6"/>
<text x="393.22" y="239.7" font-size="6.8" text-anchor="middle" class="tk">2060</text>
<line x1="412.59" y1="232.2" x2="412.59" y2="234" stroke="#333" stroke-width="0.6"/>
<text x="412.59" y="239.7" font-size="6.8" text-anchor="middle" class="tk">2070</text>
<line x1="431.96" y1="232.2" x2="431.96" y2="234" stroke="#333" stroke-width="0.6"/>
<text x="431.96" y="239.7" font-size="6.8" text-anchor="middle" class="tk">2080</text>
<line x1="451.33" y1="232.2" x2="451.33" y2="234" stroke="#333" stroke-width="0.6"/>
<text x="451.33" y="239.7" font-size="6.8" text-anchor="middle" class="tk">2090</text>
<line x1="470.7" y1="232.2" x2="470.7" y2="234" stroke="#333" stroke-width="0.6"/>
<text x="470.7" y="239.7" font-size="6.8" text-anchor="middle" class="tk">2100</text>
<text x="389.35" y="246.6" font-size="6.3" text-anchor="middle" class="tk">Year</text>
<text transform="translate(294.8,183.8) rotate(-90)" font-size="6.9" text-anchor="middle" class="tk">Sea ice concentration (%)</text>
<text x="308.4" y="133.2" font-size="7.8" font-weight="bold" stroke="#1a1a1a" stroke-width="0.2" textLength="11.6" lengthAdjust="spacingAndGlyphs">(E)</text>
<text x="323.5" y="133.2" font-size="7.9" stroke="#1a1a1a" stroke-width="0.12" textLength="44.6" lengthAdjust="spacingAndGlyphs">ASO sea ice</text>
<text x="470.7" y="133.2" font-size="7" text-anchor="end" fill="#5a5a5a">SSP5-8.5</text>
<rect x="426" y="138" width="42.5" height="22.4" rx="1" fill="#fff" fill-opacity="0.85" stroke="#ddd" stroke-width="0.5"/>
<line x1="427.8" y1="141.7" x2="437.5" y2="141.7" stroke="#8a8a8a" stroke-width="1.4"/>
<text x="441" y="143.6" font-size="5.4">All models</text>
<line x1="427.8" y1="148.55" x2="437.5" y2="148.55" stroke="#74bd74" stroke-width="1.4"/>
<text x="441" y="150.45" font-size="5.4">P-models</text>
<line x1="427.8" y1="155.4" x2="437.5" y2="155.4" stroke="#f28a8a" stroke-width="1.4"/>
<text x="441" y="157.3" font-size="5.4">N-models</text>
</svg>
</body></html>
